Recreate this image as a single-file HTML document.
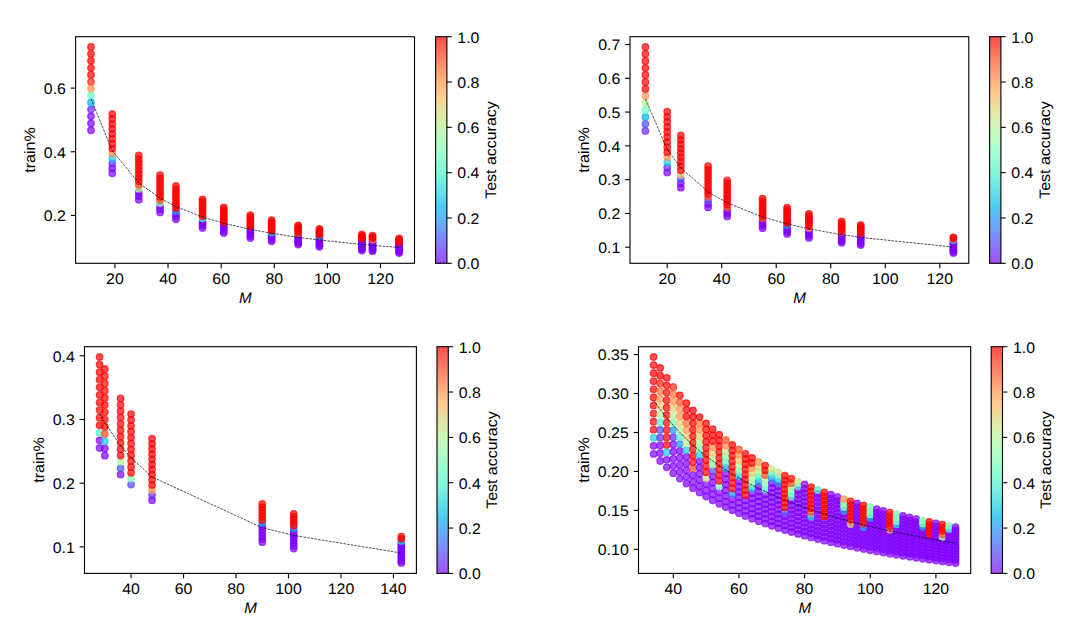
<!DOCTYPE html>
<html><head><meta charset="utf-8"><style>
html,body{margin:0;padding:0;background:#fff;width:1080px;height:642px;overflow:hidden}
svg{display:block}
text{font-family:"Liberation Sans",sans-serif;fill:#000;text-rendering:geometricPrecision}
circle{fill-opacity:0.7;stroke-opacity:0.7;stroke-width:1.2}
</style></head><body>
<svg width="1080" height="642" viewBox="0 0 1080 642">
<rect width="1080" height="642" fill="#fff"/>
<g>
<clipPath id="c1"><rect x="75.60" y="36.70" width="338.90" height="226.60"/></clipPath>
<g clip-path="url(#c1)">
<circle cx="91.00" cy="130.24" r="3.30" fill="#8000ff" stroke="#8000ff"/>
<circle cx="91.00" cy="123.30" r="3.30" fill="#8000ff" stroke="#8000ff"/>
<circle cx="91.00" cy="116.37" r="3.30" fill="#8000ff" stroke="#8000ff"/>
<circle cx="91.00" cy="109.43" r="3.30" fill="#6826fe" stroke="#6826fe"/>
<circle cx="91.00" cy="102.49" r="3.30" fill="#00b5eb" stroke="#00b5eb"/>
<circle cx="91.00" cy="95.56" r="3.30" fill="#66fcc2" stroke="#66fcc2"/>
<circle cx="91.00" cy="88.62" r="3.30" fill="#ff964f" stroke="#ff964f"/>
<circle cx="91.00" cy="81.68" r="3.30" fill="#ff2613" stroke="#ff2613"/>
<circle cx="91.00" cy="74.75" r="3.30" fill="#ff0000" stroke="#ff0000"/>
<circle cx="91.00" cy="67.81" r="3.30" fill="#ff0000" stroke="#ff0000"/>
<circle cx="91.00" cy="60.87" r="3.30" fill="#ff0000" stroke="#ff0000"/>
<circle cx="91.00" cy="53.94" r="3.30" fill="#ff0000" stroke="#ff0000"/>
<circle cx="91.00" cy="47.00" r="3.30" fill="#ff0000" stroke="#ff0000"/>
<circle cx="112.25" cy="173.26" r="3.30" fill="#8000ff" stroke="#8000ff"/>
<circle cx="112.25" cy="168.33" r="3.30" fill="#8000ff" stroke="#8000ff"/>
<circle cx="112.25" cy="163.39" r="3.30" fill="#6826fe" stroke="#6826fe"/>
<circle cx="112.25" cy="158.46" r="3.30" fill="#18cde4" stroke="#18cde4"/>
<circle cx="112.25" cy="153.53" r="3.30" fill="#ff964f" stroke="#ff964f"/>
<circle cx="112.25" cy="148.60" r="3.30" fill="#ff0000" stroke="#ff0000"/>
<circle cx="112.25" cy="143.67" r="3.30" fill="#ff0000" stroke="#ff0000"/>
<circle cx="112.25" cy="138.74" r="3.30" fill="#ff0000" stroke="#ff0000"/>
<circle cx="112.25" cy="133.81" r="3.30" fill="#ff0000" stroke="#ff0000"/>
<circle cx="112.25" cy="128.87" r="3.30" fill="#ff0000" stroke="#ff0000"/>
<circle cx="112.25" cy="123.94" r="3.30" fill="#ff0000" stroke="#ff0000"/>
<circle cx="112.25" cy="119.01" r="3.30" fill="#ff0000" stroke="#ff0000"/>
<circle cx="112.25" cy="114.08" r="3.30" fill="#ff0000" stroke="#ff0000"/>
<circle cx="138.81" cy="199.78" r="3.30" fill="#8000ff" stroke="#8000ff"/>
<circle cx="138.81" cy="196.08" r="3.30" fill="#8000ff" stroke="#8000ff"/>
<circle cx="138.81" cy="192.39" r="3.30" fill="#8000ff" stroke="#8000ff"/>
<circle cx="138.81" cy="188.69" r="3.30" fill="#b2f396" stroke="#b2f396"/>
<circle cx="138.81" cy="185.00" r="3.30" fill="#ff4d27" stroke="#ff4d27"/>
<circle cx="138.81" cy="181.31" r="3.30" fill="#ff0000" stroke="#ff0000"/>
<circle cx="138.81" cy="177.61" r="3.30" fill="#ff0000" stroke="#ff0000"/>
<circle cx="138.81" cy="173.92" r="3.30" fill="#ff0000" stroke="#ff0000"/>
<circle cx="138.81" cy="170.22" r="3.30" fill="#ff0000" stroke="#ff0000"/>
<circle cx="138.81" cy="166.53" r="3.30" fill="#ff0000" stroke="#ff0000"/>
<circle cx="138.81" cy="162.83" r="3.30" fill="#ff0000" stroke="#ff0000"/>
<circle cx="138.81" cy="159.14" r="3.30" fill="#ff0000" stroke="#ff0000"/>
<circle cx="138.81" cy="155.44" r="3.30" fill="#ff0000" stroke="#ff0000"/>
<circle cx="160.06" cy="212.42" r="3.30" fill="#8000ff" stroke="#8000ff"/>
<circle cx="160.06" cy="209.32" r="3.30" fill="#8000ff" stroke="#8000ff"/>
<circle cx="160.06" cy="206.21" r="3.30" fill="#8000ff" stroke="#8000ff"/>
<circle cx="160.06" cy="203.11" r="3.30" fill="#80ffb4" stroke="#80ffb4"/>
<circle cx="160.06" cy="200.00" r="3.30" fill="#ff4d27" stroke="#ff4d27"/>
<circle cx="160.06" cy="196.89" r="3.30" fill="#ff0000" stroke="#ff0000"/>
<circle cx="160.06" cy="193.79" r="3.30" fill="#ff0000" stroke="#ff0000"/>
<circle cx="160.06" cy="190.68" r="3.30" fill="#ff0000" stroke="#ff0000"/>
<circle cx="160.06" cy="187.58" r="3.30" fill="#ff0000" stroke="#ff0000"/>
<circle cx="160.06" cy="184.47" r="3.30" fill="#ff0000" stroke="#ff0000"/>
<circle cx="160.06" cy="181.37" r="3.30" fill="#ff0000" stroke="#ff0000"/>
<circle cx="160.06" cy="178.26" r="3.30" fill="#ff0000" stroke="#ff0000"/>
<circle cx="160.06" cy="175.16" r="3.30" fill="#ff0000" stroke="#ff0000"/>
<circle cx="176.00" cy="219.33" r="3.30" fill="#8000ff" stroke="#8000ff"/>
<circle cx="176.00" cy="216.55" r="3.30" fill="#8000ff" stroke="#8000ff"/>
<circle cx="176.00" cy="213.76" r="3.30" fill="#8000ff" stroke="#8000ff"/>
<circle cx="176.00" cy="210.98" r="3.30" fill="#1996f3" stroke="#1996f3"/>
<circle cx="176.00" cy="208.20" r="3.30" fill="#ff0000" stroke="#ff0000"/>
<circle cx="176.00" cy="205.41" r="3.30" fill="#ff0000" stroke="#ff0000"/>
<circle cx="176.00" cy="202.63" r="3.30" fill="#ff0000" stroke="#ff0000"/>
<circle cx="176.00" cy="199.85" r="3.30" fill="#ff0000" stroke="#ff0000"/>
<circle cx="176.00" cy="197.06" r="3.30" fill="#ff0000" stroke="#ff0000"/>
<circle cx="176.00" cy="194.28" r="3.30" fill="#ff0000" stroke="#ff0000"/>
<circle cx="176.00" cy="191.50" r="3.30" fill="#ff0000" stroke="#ff0000"/>
<circle cx="176.00" cy="188.71" r="3.30" fill="#ff0000" stroke="#ff0000"/>
<circle cx="176.00" cy="185.93" r="3.30" fill="#ff0000" stroke="#ff0000"/>
<circle cx="202.55" cy="227.90" r="3.30" fill="#8000ff" stroke="#8000ff"/>
<circle cx="202.55" cy="225.52" r="3.30" fill="#8000ff" stroke="#8000ff"/>
<circle cx="202.55" cy="223.14" r="3.30" fill="#8000ff" stroke="#8000ff"/>
<circle cx="202.55" cy="220.75" r="3.30" fill="#8000ff" stroke="#8000ff"/>
<circle cx="202.55" cy="218.37" r="3.30" fill="#4df3ce" stroke="#4df3ce"/>
<circle cx="202.55" cy="215.98" r="3.30" fill="#ff0000" stroke="#ff0000"/>
<circle cx="202.55" cy="213.60" r="3.30" fill="#ff0000" stroke="#ff0000"/>
<circle cx="202.55" cy="211.22" r="3.30" fill="#ff0000" stroke="#ff0000"/>
<circle cx="202.55" cy="208.83" r="3.30" fill="#ff0000" stroke="#ff0000"/>
<circle cx="202.55" cy="206.45" r="3.30" fill="#ff0000" stroke="#ff0000"/>
<circle cx="202.55" cy="204.07" r="3.30" fill="#ff0000" stroke="#ff0000"/>
<circle cx="202.55" cy="201.68" r="3.30" fill="#ff0000" stroke="#ff0000"/>
<circle cx="202.55" cy="199.30" r="3.30" fill="#ff0000" stroke="#ff0000"/>
<circle cx="223.80" cy="233.04" r="3.30" fill="#8000ff" stroke="#8000ff"/>
<circle cx="223.80" cy="230.89" r="3.30" fill="#8000ff" stroke="#8000ff"/>
<circle cx="223.80" cy="228.75" r="3.30" fill="#8000ff" stroke="#8000ff"/>
<circle cx="223.80" cy="226.60" r="3.30" fill="#8000ff" stroke="#8000ff"/>
<circle cx="223.80" cy="224.46" r="3.30" fill="#8000ff" stroke="#8000ff"/>
<circle cx="223.80" cy="222.31" r="3.30" fill="#ff0000" stroke="#ff0000"/>
<circle cx="223.80" cy="220.17" r="3.30" fill="#ff0000" stroke="#ff0000"/>
<circle cx="223.80" cy="218.02" r="3.30" fill="#ff0000" stroke="#ff0000"/>
<circle cx="223.80" cy="215.88" r="3.30" fill="#ff0000" stroke="#ff0000"/>
<circle cx="223.80" cy="213.74" r="3.30" fill="#ff0000" stroke="#ff0000"/>
<circle cx="223.80" cy="211.59" r="3.30" fill="#ff0000" stroke="#ff0000"/>
<circle cx="223.80" cy="209.45" r="3.30" fill="#ff0000" stroke="#ff0000"/>
<circle cx="223.80" cy="207.30" r="3.30" fill="#ff0000" stroke="#ff0000"/>
<circle cx="250.36" cy="238.06" r="3.30" fill="#8000ff" stroke="#8000ff"/>
<circle cx="250.36" cy="236.14" r="3.30" fill="#8000ff" stroke="#8000ff"/>
<circle cx="250.36" cy="234.23" r="3.30" fill="#8000ff" stroke="#8000ff"/>
<circle cx="250.36" cy="232.32" r="3.30" fill="#8000ff" stroke="#8000ff"/>
<circle cx="250.36" cy="230.41" r="3.30" fill="#8000ff" stroke="#8000ff"/>
<circle cx="250.36" cy="228.50" r="3.30" fill="#8000ff" stroke="#8000ff"/>
<circle cx="250.36" cy="226.59" r="3.30" fill="#ff0000" stroke="#ff0000"/>
<circle cx="250.36" cy="224.68" r="3.30" fill="#ff0000" stroke="#ff0000"/>
<circle cx="250.36" cy="222.77" r="3.30" fill="#ff0000" stroke="#ff0000"/>
<circle cx="250.36" cy="220.86" r="3.30" fill="#ff0000" stroke="#ff0000"/>
<circle cx="250.36" cy="218.95" r="3.30" fill="#ff0000" stroke="#ff0000"/>
<circle cx="250.36" cy="217.04" r="3.30" fill="#ff0000" stroke="#ff0000"/>
<circle cx="250.36" cy="215.13" r="3.30" fill="#ff0000" stroke="#ff0000"/>
<circle cx="271.61" cy="241.28" r="3.30" fill="#8000ff" stroke="#8000ff"/>
<circle cx="271.61" cy="239.52" r="3.30" fill="#8000ff" stroke="#8000ff"/>
<circle cx="271.61" cy="237.76" r="3.30" fill="#8000ff" stroke="#8000ff"/>
<circle cx="271.61" cy="236.00" r="3.30" fill="#8000ff" stroke="#8000ff"/>
<circle cx="271.61" cy="234.24" r="3.30" fill="#8000ff" stroke="#8000ff"/>
<circle cx="271.61" cy="232.48" r="3.30" fill="#18cde4" stroke="#18cde4"/>
<circle cx="271.61" cy="230.72" r="3.30" fill="#ff0000" stroke="#ff0000"/>
<circle cx="271.61" cy="228.96" r="3.30" fill="#ff0000" stroke="#ff0000"/>
<circle cx="271.61" cy="227.20" r="3.30" fill="#ff0000" stroke="#ff0000"/>
<circle cx="271.61" cy="225.44" r="3.30" fill="#ff0000" stroke="#ff0000"/>
<circle cx="271.61" cy="223.68" r="3.30" fill="#ff0000" stroke="#ff0000"/>
<circle cx="271.61" cy="221.92" r="3.30" fill="#ff0000" stroke="#ff0000"/>
<circle cx="271.61" cy="220.16" r="3.30" fill="#ff0000" stroke="#ff0000"/>
<circle cx="298.17" cy="244.61" r="3.30" fill="#8000ff" stroke="#8000ff"/>
<circle cx="298.17" cy="243.01" r="3.30" fill="#8000ff" stroke="#8000ff"/>
<circle cx="298.17" cy="241.40" r="3.30" fill="#8000ff" stroke="#8000ff"/>
<circle cx="298.17" cy="239.80" r="3.30" fill="#8000ff" stroke="#8000ff"/>
<circle cx="298.17" cy="238.19" r="3.30" fill="#8000ff" stroke="#8000ff"/>
<circle cx="298.17" cy="236.59" r="3.30" fill="#8000ff" stroke="#8000ff"/>
<circle cx="298.17" cy="234.98" r="3.30" fill="#8000ff" stroke="#8000ff"/>
<circle cx="298.17" cy="233.38" r="3.30" fill="#ff4d27" stroke="#ff4d27"/>
<circle cx="298.17" cy="231.77" r="3.30" fill="#ff0000" stroke="#ff0000"/>
<circle cx="298.17" cy="230.17" r="3.30" fill="#ff0000" stroke="#ff0000"/>
<circle cx="298.17" cy="228.56" r="3.30" fill="#ff0000" stroke="#ff0000"/>
<circle cx="298.17" cy="226.96" r="3.30" fill="#ff0000" stroke="#ff0000"/>
<circle cx="298.17" cy="225.35" r="3.30" fill="#ff0000" stroke="#ff0000"/>
<circle cx="319.42" cy="246.84" r="3.30" fill="#8000ff" stroke="#8000ff"/>
<circle cx="319.42" cy="245.34" r="3.30" fill="#8000ff" stroke="#8000ff"/>
<circle cx="319.42" cy="243.84" r="3.30" fill="#8000ff" stroke="#8000ff"/>
<circle cx="319.42" cy="242.34" r="3.30" fill="#8000ff" stroke="#8000ff"/>
<circle cx="319.42" cy="240.84" r="3.30" fill="#8000ff" stroke="#8000ff"/>
<circle cx="319.42" cy="239.34" r="3.30" fill="#8000ff" stroke="#8000ff"/>
<circle cx="319.42" cy="237.84" r="3.30" fill="#8000ff" stroke="#8000ff"/>
<circle cx="319.42" cy="236.34" r="3.30" fill="#1996f3" stroke="#1996f3"/>
<circle cx="319.42" cy="234.84" r="3.30" fill="#ff0000" stroke="#ff0000"/>
<circle cx="319.42" cy="233.34" r="3.30" fill="#ff0000" stroke="#ff0000"/>
<circle cx="319.42" cy="231.84" r="3.30" fill="#ff0000" stroke="#ff0000"/>
<circle cx="319.42" cy="230.34" r="3.30" fill="#ff0000" stroke="#ff0000"/>
<circle cx="319.42" cy="228.83" r="3.30" fill="#ff0000" stroke="#ff0000"/>
<circle cx="361.91" cy="250.48" r="3.30" fill="#8000ff" stroke="#8000ff"/>
<circle cx="361.91" cy="249.15" r="3.30" fill="#8000ff" stroke="#8000ff"/>
<circle cx="361.91" cy="247.82" r="3.30" fill="#8000ff" stroke="#8000ff"/>
<circle cx="361.91" cy="246.49" r="3.30" fill="#8000ff" stroke="#8000ff"/>
<circle cx="361.91" cy="245.15" r="3.30" fill="#8000ff" stroke="#8000ff"/>
<circle cx="361.91" cy="243.82" r="3.30" fill="#8000ff" stroke="#8000ff"/>
<circle cx="361.91" cy="242.49" r="3.30" fill="#8000ff" stroke="#8000ff"/>
<circle cx="361.91" cy="241.16" r="3.30" fill="#8000ff" stroke="#8000ff"/>
<circle cx="361.91" cy="239.83" r="3.30" fill="#8000ff" stroke="#8000ff"/>
<circle cx="361.91" cy="238.50" r="3.30" fill="#ff0000" stroke="#ff0000"/>
<circle cx="361.91" cy="237.17" r="3.30" fill="#ff0000" stroke="#ff0000"/>
<circle cx="361.91" cy="235.84" r="3.30" fill="#ff0000" stroke="#ff0000"/>
<circle cx="361.91" cy="234.50" r="3.30" fill="#ff0000" stroke="#ff0000"/>
<circle cx="372.54" cy="251.25" r="3.30" fill="#8000ff" stroke="#8000ff"/>
<circle cx="372.54" cy="249.96" r="3.30" fill="#8000ff" stroke="#8000ff"/>
<circle cx="372.54" cy="248.66" r="3.30" fill="#8000ff" stroke="#8000ff"/>
<circle cx="372.54" cy="247.37" r="3.30" fill="#8000ff" stroke="#8000ff"/>
<circle cx="372.54" cy="246.07" r="3.30" fill="#8000ff" stroke="#8000ff"/>
<circle cx="372.54" cy="244.78" r="3.30" fill="#8000ff" stroke="#8000ff"/>
<circle cx="372.54" cy="243.48" r="3.30" fill="#8000ff" stroke="#8000ff"/>
<circle cx="372.54" cy="242.19" r="3.30" fill="#8000ff" stroke="#8000ff"/>
<circle cx="372.54" cy="240.89" r="3.30" fill="#8000ff" stroke="#8000ff"/>
<circle cx="372.54" cy="239.60" r="3.30" fill="#ff964f" stroke="#ff964f"/>
<circle cx="372.54" cy="238.30" r="3.30" fill="#ff0000" stroke="#ff0000"/>
<circle cx="372.54" cy="237.01" r="3.30" fill="#ff0000" stroke="#ff0000"/>
<circle cx="372.54" cy="235.71" r="3.30" fill="#ff0000" stroke="#ff0000"/>
<circle cx="399.10" cy="253.00" r="3.30" fill="#8000ff" stroke="#8000ff"/>
<circle cx="399.10" cy="251.79" r="3.30" fill="#8000ff" stroke="#8000ff"/>
<circle cx="399.10" cy="250.57" r="3.30" fill="#8000ff" stroke="#8000ff"/>
<circle cx="399.10" cy="249.36" r="3.30" fill="#8000ff" stroke="#8000ff"/>
<circle cx="399.10" cy="248.14" r="3.30" fill="#8000ff" stroke="#8000ff"/>
<circle cx="399.10" cy="246.93" r="3.30" fill="#8000ff" stroke="#8000ff"/>
<circle cx="399.10" cy="245.72" r="3.30" fill="#8000ff" stroke="#8000ff"/>
<circle cx="399.10" cy="244.50" r="3.30" fill="#8000ff" stroke="#8000ff"/>
<circle cx="399.10" cy="243.29" r="3.30" fill="#8000ff" stroke="#8000ff"/>
<circle cx="399.10" cy="242.08" r="3.30" fill="#ff0000" stroke="#ff0000"/>
<circle cx="399.10" cy="240.86" r="3.30" fill="#ff0000" stroke="#ff0000"/>
<circle cx="399.10" cy="239.65" r="3.30" fill="#ff0000" stroke="#ff0000"/>
<circle cx="399.10" cy="238.43" r="3.30" fill="#ff0000" stroke="#ff0000"/>
<polyline points="91.00,98.68 112.25,150.82 138.81,182.97 160.06,198.29 176.00,206.67 202.55,217.06 223.80,223.28 250.36,229.36 271.61,233.27 298.17,237.31 319.42,240.02 361.91,244.42 372.54,245.36 399.10,247.48" fill="none" stroke="#000" stroke-width="0.69" stroke-dasharray="2.57 1.11"/>
</g>
<rect x="75.60" y="36.70" width="338.90" height="226.60" fill="none" stroke="#000" stroke-width="1.11"/>
<line x1="114.91" y1="263.30" x2="114.91" y2="268.16" stroke="#000" stroke-width="1.11"/>
<text x="114.91" y="283.80" text-anchor="middle" font-size="15.30" textLength="17.67" lengthAdjust="spacingAndGlyphs">20</text>
<line x1="168.03" y1="263.30" x2="168.03" y2="268.16" stroke="#000" stroke-width="1.11"/>
<text x="168.03" y="283.80" text-anchor="middle" font-size="15.30" textLength="17.67" lengthAdjust="spacingAndGlyphs">40</text>
<line x1="221.15" y1="263.30" x2="221.15" y2="268.16" stroke="#000" stroke-width="1.11"/>
<text x="221.15" y="283.80" text-anchor="middle" font-size="15.30" textLength="17.67" lengthAdjust="spacingAndGlyphs">60</text>
<line x1="274.27" y1="263.30" x2="274.27" y2="268.16" stroke="#000" stroke-width="1.11"/>
<text x="274.27" y="283.80" text-anchor="middle" font-size="15.30" textLength="17.67" lengthAdjust="spacingAndGlyphs">80</text>
<line x1="327.38" y1="263.30" x2="327.38" y2="268.16" stroke="#000" stroke-width="1.11"/>
<text x="327.38" y="283.80" text-anchor="middle" font-size="15.30" textLength="26.50" lengthAdjust="spacingAndGlyphs">100</text>
<line x1="380.50" y1="263.30" x2="380.50" y2="268.16" stroke="#000" stroke-width="1.11"/>
<text x="380.50" y="283.80" text-anchor="middle" font-size="15.30" textLength="26.50" lengthAdjust="spacingAndGlyphs">120</text>
<line x1="70.74" y1="215.39" x2="75.60" y2="215.39" stroke="#000" stroke-width="1.11"/>
<text x="65.88" y="221.19" text-anchor="end" font-size="15.30" textLength="22.08" lengthAdjust="spacingAndGlyphs">0.2</text>
<line x1="70.74" y1="151.75" x2="75.60" y2="151.75" stroke="#000" stroke-width="1.11"/>
<text x="65.88" y="157.55" text-anchor="end" font-size="15.30" textLength="22.08" lengthAdjust="spacingAndGlyphs">0.4</text>
<line x1="70.74" y1="88.11" x2="75.60" y2="88.11" stroke="#000" stroke-width="1.11"/>
<text x="65.88" y="93.91" text-anchor="end" font-size="15.30" textLength="22.08" lengthAdjust="spacingAndGlyphs">0.6</text>
<text x="245.25" y="302.80" text-anchor="middle" font-size="15.20" font-style="italic">M</text>
<text x="34.60" y="150.00" text-anchor="middle" font-size="15.20" transform="rotate(-90 34.60 150.00)" textLength="45.50" lengthAdjust="spacingAndGlyphs">train%</text>
<linearGradient id="g1" x1="0" y1="0" x2="0" y2="1"><stop offset="0.000" stop-color="#ff0000"/><stop offset="0.031" stop-color="#ff160b"/><stop offset="0.062" stop-color="#ff2f18"/><stop offset="0.094" stop-color="#ff4724"/><stop offset="0.125" stop-color="#ff5f30"/><stop offset="0.156" stop-color="#ff763d"/><stop offset="0.188" stop-color="#ff8c49"/><stop offset="0.219" stop-color="#ffa055"/><stop offset="0.250" stop-color="#ffb360"/><stop offset="0.281" stop-color="#f0c46c"/><stop offset="0.312" stop-color="#e0d377"/><stop offset="0.344" stop-color="#d0e082"/><stop offset="0.375" stop-color="#c0eb8d"/><stop offset="0.406" stop-color="#b0f397"/><stop offset="0.438" stop-color="#a0faa1"/><stop offset="0.469" stop-color="#90feab"/><stop offset="0.500" stop-color="#80ffb4"/><stop offset="0.531" stop-color="#70febc"/><stop offset="0.562" stop-color="#60fac5"/><stop offset="0.594" stop-color="#50f4cc"/><stop offset="0.625" stop-color="#40ecd4"/><stop offset="0.656" stop-color="#30e1da"/><stop offset="0.688" stop-color="#20d5e1"/><stop offset="0.719" stop-color="#10c6e6"/><stop offset="0.750" stop-color="#00b5eb"/><stop offset="0.781" stop-color="#10a2f0"/><stop offset="0.812" stop-color="#208ef4"/><stop offset="0.844" stop-color="#3079f7"/><stop offset="0.875" stop-color="#4062fa"/><stop offset="0.906" stop-color="#504afc"/><stop offset="0.938" stop-color="#6032fe"/><stop offset="0.969" stop-color="#7019ff"/><stop offset="1.000" stop-color="#8000ff"/></linearGradient>
<rect x="435.60" y="36.70" width="11.30" height="226.60" fill="url(#g1)" fill-opacity="0.70"/>
<rect x="435.60" y="36.70" width="11.30" height="226.60" fill="none" stroke="#000" stroke-width="1.11"/>
<line x1="446.90" y1="263.30" x2="451.76" y2="263.30" stroke="#000" stroke-width="1.11"/>
<text x="457.30" y="269.10" text-anchor="start" font-size="15.30" textLength="22.08" lengthAdjust="spacingAndGlyphs">0.0</text>
<line x1="446.90" y1="217.98" x2="451.76" y2="217.98" stroke="#000" stroke-width="1.11"/>
<text x="457.30" y="223.78" text-anchor="start" font-size="15.30" textLength="22.08" lengthAdjust="spacingAndGlyphs">0.2</text>
<line x1="446.90" y1="172.66" x2="451.76" y2="172.66" stroke="#000" stroke-width="1.11"/>
<text x="457.30" y="178.46" text-anchor="start" font-size="15.30" textLength="22.08" lengthAdjust="spacingAndGlyphs">0.4</text>
<line x1="446.90" y1="127.34" x2="451.76" y2="127.34" stroke="#000" stroke-width="1.11"/>
<text x="457.30" y="133.14" text-anchor="start" font-size="15.30" textLength="22.08" lengthAdjust="spacingAndGlyphs">0.6</text>
<line x1="446.90" y1="82.02" x2="451.76" y2="82.02" stroke="#000" stroke-width="1.11"/>
<text x="457.30" y="87.82" text-anchor="start" font-size="15.30" textLength="22.08" lengthAdjust="spacingAndGlyphs">0.8</text>
<line x1="446.90" y1="36.70" x2="451.76" y2="36.70" stroke="#000" stroke-width="1.11"/>
<text x="457.30" y="42.50" text-anchor="start" font-size="15.30" textLength="22.08" lengthAdjust="spacingAndGlyphs">1.0</text>
<text x="495.90" y="150.00" text-anchor="middle" font-size="15.20" transform="rotate(-90 495.90 150.00)" textLength="97.50" lengthAdjust="spacingAndGlyphs">Test accuracy</text>
</g>
<g>
<clipPath id="c2"><rect x="630.00" y="36.70" width="338.80" height="226.60"/></clipPath>
<g clip-path="url(#c2)">
<circle cx="645.40" cy="130.94" r="3.30" fill="#6826fe" stroke="#6826fe"/>
<circle cx="645.40" cy="123.95" r="3.30" fill="#4e4dfc" stroke="#4e4dfc"/>
<circle cx="645.40" cy="116.95" r="3.30" fill="#00b5eb" stroke="#00b5eb"/>
<circle cx="645.40" cy="109.96" r="3.30" fill="#66fcc2" stroke="#66fcc2"/>
<circle cx="645.40" cy="102.96" r="3.30" fill="#b2f396" stroke="#b2f396"/>
<circle cx="645.40" cy="95.97" r="3.30" fill="#ff964f" stroke="#ff964f"/>
<circle cx="645.40" cy="88.97" r="3.30" fill="#ff0000" stroke="#ff0000"/>
<circle cx="645.40" cy="81.98" r="3.30" fill="#ff0000" stroke="#ff0000"/>
<circle cx="645.40" cy="74.98" r="3.30" fill="#ff0000" stroke="#ff0000"/>
<circle cx="645.40" cy="67.99" r="3.30" fill="#ff0000" stroke="#ff0000"/>
<circle cx="645.40" cy="60.99" r="3.30" fill="#ff0000" stroke="#ff0000"/>
<circle cx="645.40" cy="54.00" r="3.30" fill="#ff0000" stroke="#ff0000"/>
<circle cx="645.40" cy="47.00" r="3.30" fill="#ff0000" stroke="#ff0000"/>
<circle cx="667.21" cy="172.45" r="3.30" fill="#8000ff" stroke="#8000ff"/>
<circle cx="667.21" cy="167.39" r="3.30" fill="#6826fe" stroke="#6826fe"/>
<circle cx="667.21" cy="162.33" r="3.30" fill="#18cde4" stroke="#18cde4"/>
<circle cx="667.21" cy="157.27" r="3.30" fill="#ff964f" stroke="#ff964f"/>
<circle cx="667.21" cy="152.21" r="3.30" fill="#ff0000" stroke="#ff0000"/>
<circle cx="667.21" cy="147.15" r="3.30" fill="#ff0000" stroke="#ff0000"/>
<circle cx="667.21" cy="142.09" r="3.30" fill="#ff0000" stroke="#ff0000"/>
<circle cx="667.21" cy="137.03" r="3.30" fill="#ff0000" stroke="#ff0000"/>
<circle cx="667.21" cy="131.97" r="3.30" fill="#ff0000" stroke="#ff0000"/>
<circle cx="667.21" cy="126.91" r="3.30" fill="#ff0000" stroke="#ff0000"/>
<circle cx="667.21" cy="121.85" r="3.30" fill="#ff0000" stroke="#ff0000"/>
<circle cx="667.21" cy="116.79" r="3.30" fill="#ff0000" stroke="#ff0000"/>
<circle cx="667.21" cy="111.73" r="3.30" fill="#ff0000" stroke="#ff0000"/>
<circle cx="680.83" cy="187.69" r="3.30" fill="#8000ff" stroke="#8000ff"/>
<circle cx="680.83" cy="183.34" r="3.30" fill="#8000ff" stroke="#8000ff"/>
<circle cx="680.83" cy="178.99" r="3.30" fill="#4e4dfc" stroke="#4e4dfc"/>
<circle cx="680.83" cy="174.64" r="3.30" fill="#e6cd73" stroke="#e6cd73"/>
<circle cx="680.83" cy="170.30" r="3.30" fill="#ff0000" stroke="#ff0000"/>
<circle cx="680.83" cy="165.95" r="3.30" fill="#ff0000" stroke="#ff0000"/>
<circle cx="680.83" cy="161.60" r="3.30" fill="#ff0000" stroke="#ff0000"/>
<circle cx="680.83" cy="157.25" r="3.30" fill="#ff0000" stroke="#ff0000"/>
<circle cx="680.83" cy="152.90" r="3.30" fill="#ff0000" stroke="#ff0000"/>
<circle cx="680.83" cy="148.55" r="3.30" fill="#ff0000" stroke="#ff0000"/>
<circle cx="680.83" cy="144.20" r="3.30" fill="#ff0000" stroke="#ff0000"/>
<circle cx="680.83" cy="139.85" r="3.30" fill="#ff0000" stroke="#ff0000"/>
<circle cx="680.83" cy="135.50" r="3.30" fill="#ff0000" stroke="#ff0000"/>
<circle cx="708.09" cy="207.38" r="3.30" fill="#8000ff" stroke="#8000ff"/>
<circle cx="708.09" cy="203.95" r="3.30" fill="#8000ff" stroke="#8000ff"/>
<circle cx="708.09" cy="200.52" r="3.30" fill="#4e4dfc" stroke="#4e4dfc"/>
<circle cx="708.09" cy="197.09" r="3.30" fill="#ff4d27" stroke="#ff4d27"/>
<circle cx="708.09" cy="193.66" r="3.30" fill="#ff0000" stroke="#ff0000"/>
<circle cx="708.09" cy="190.23" r="3.30" fill="#ff0000" stroke="#ff0000"/>
<circle cx="708.09" cy="186.79" r="3.30" fill="#ff0000" stroke="#ff0000"/>
<circle cx="708.09" cy="183.36" r="3.30" fill="#ff0000" stroke="#ff0000"/>
<circle cx="708.09" cy="179.93" r="3.30" fill="#ff0000" stroke="#ff0000"/>
<circle cx="708.09" cy="176.50" r="3.30" fill="#ff0000" stroke="#ff0000"/>
<circle cx="708.09" cy="173.07" r="3.30" fill="#ff0000" stroke="#ff0000"/>
<circle cx="708.09" cy="169.64" r="3.30" fill="#ff0000" stroke="#ff0000"/>
<circle cx="708.09" cy="166.21" r="3.30" fill="#ff0000" stroke="#ff0000"/>
<circle cx="727.17" cy="216.51" r="3.30" fill="#8000ff" stroke="#8000ff"/>
<circle cx="727.17" cy="213.50" r="3.30" fill="#8000ff" stroke="#8000ff"/>
<circle cx="727.17" cy="210.49" r="3.30" fill="#8000ff" stroke="#8000ff"/>
<circle cx="727.17" cy="207.49" r="3.30" fill="#ff4d27" stroke="#ff4d27"/>
<circle cx="727.17" cy="204.48" r="3.30" fill="#ff0000" stroke="#ff0000"/>
<circle cx="727.17" cy="201.47" r="3.30" fill="#ff0000" stroke="#ff0000"/>
<circle cx="727.17" cy="198.47" r="3.30" fill="#ff0000" stroke="#ff0000"/>
<circle cx="727.17" cy="195.46" r="3.30" fill="#ff0000" stroke="#ff0000"/>
<circle cx="727.17" cy="192.46" r="3.30" fill="#ff0000" stroke="#ff0000"/>
<circle cx="727.17" cy="189.45" r="3.30" fill="#ff0000" stroke="#ff0000"/>
<circle cx="727.17" cy="186.44" r="3.30" fill="#ff0000" stroke="#ff0000"/>
<circle cx="727.17" cy="183.44" r="3.30" fill="#ff0000" stroke="#ff0000"/>
<circle cx="727.17" cy="180.43" r="3.30" fill="#ff0000" stroke="#ff0000"/>
<circle cx="762.60" cy="228.19" r="3.30" fill="#8000ff" stroke="#8000ff"/>
<circle cx="762.60" cy="225.73" r="3.30" fill="#8000ff" stroke="#8000ff"/>
<circle cx="762.60" cy="223.27" r="3.30" fill="#8000ff" stroke="#8000ff"/>
<circle cx="762.60" cy="220.81" r="3.30" fill="#8000ff" stroke="#8000ff"/>
<circle cx="762.60" cy="218.35" r="3.30" fill="#ff4d27" stroke="#ff4d27"/>
<circle cx="762.60" cy="215.89" r="3.30" fill="#ff0000" stroke="#ff0000"/>
<circle cx="762.60" cy="213.43" r="3.30" fill="#ff0000" stroke="#ff0000"/>
<circle cx="762.60" cy="210.97" r="3.30" fill="#ff0000" stroke="#ff0000"/>
<circle cx="762.60" cy="208.50" r="3.30" fill="#ff0000" stroke="#ff0000"/>
<circle cx="762.60" cy="206.04" r="3.30" fill="#ff0000" stroke="#ff0000"/>
<circle cx="762.60" cy="203.58" r="3.30" fill="#ff0000" stroke="#ff0000"/>
<circle cx="762.60" cy="201.12" r="3.30" fill="#ff0000" stroke="#ff0000"/>
<circle cx="762.60" cy="198.66" r="3.30" fill="#ff0000" stroke="#ff0000"/>
<circle cx="787.13" cy="233.90" r="3.30" fill="#8000ff" stroke="#8000ff"/>
<circle cx="787.13" cy="231.71" r="3.30" fill="#8000ff" stroke="#8000ff"/>
<circle cx="787.13" cy="229.51" r="3.30" fill="#8000ff" stroke="#8000ff"/>
<circle cx="787.13" cy="227.32" r="3.30" fill="#8000ff" stroke="#8000ff"/>
<circle cx="787.13" cy="225.12" r="3.30" fill="#1996f3" stroke="#1996f3"/>
<circle cx="787.13" cy="222.93" r="3.30" fill="#ff0000" stroke="#ff0000"/>
<circle cx="787.13" cy="220.73" r="3.30" fill="#ff0000" stroke="#ff0000"/>
<circle cx="787.13" cy="218.54" r="3.30" fill="#ff0000" stroke="#ff0000"/>
<circle cx="787.13" cy="216.34" r="3.30" fill="#ff0000" stroke="#ff0000"/>
<circle cx="787.13" cy="214.15" r="3.30" fill="#ff0000" stroke="#ff0000"/>
<circle cx="787.13" cy="211.95" r="3.30" fill="#ff0000" stroke="#ff0000"/>
<circle cx="787.13" cy="209.76" r="3.30" fill="#ff0000" stroke="#ff0000"/>
<circle cx="787.13" cy="207.56" r="3.30" fill="#ff0000" stroke="#ff0000"/>
<circle cx="808.94" cy="237.95" r="3.30" fill="#8000ff" stroke="#8000ff"/>
<circle cx="808.94" cy="235.94" r="3.30" fill="#8000ff" stroke="#8000ff"/>
<circle cx="808.94" cy="233.94" r="3.30" fill="#8000ff" stroke="#8000ff"/>
<circle cx="808.94" cy="231.93" r="3.30" fill="#8000ff" stroke="#8000ff"/>
<circle cx="808.94" cy="229.92" r="3.30" fill="#8000ff" stroke="#8000ff"/>
<circle cx="808.94" cy="227.92" r="3.30" fill="#ff964f" stroke="#ff964f"/>
<circle cx="808.94" cy="225.91" r="3.30" fill="#ff0000" stroke="#ff0000"/>
<circle cx="808.94" cy="223.90" r="3.30" fill="#ff0000" stroke="#ff0000"/>
<circle cx="808.94" cy="221.90" r="3.30" fill="#ff0000" stroke="#ff0000"/>
<circle cx="808.94" cy="219.89" r="3.30" fill="#ff0000" stroke="#ff0000"/>
<circle cx="808.94" cy="217.88" r="3.30" fill="#ff0000" stroke="#ff0000"/>
<circle cx="808.94" cy="215.88" r="3.30" fill="#ff0000" stroke="#ff0000"/>
<circle cx="808.94" cy="213.87" r="3.30" fill="#ff0000" stroke="#ff0000"/>
<circle cx="841.65" cy="242.77" r="3.30" fill="#8000ff" stroke="#8000ff"/>
<circle cx="841.65" cy="240.99" r="3.30" fill="#8000ff" stroke="#8000ff"/>
<circle cx="841.65" cy="239.20" r="3.30" fill="#8000ff" stroke="#8000ff"/>
<circle cx="841.65" cy="237.42" r="3.30" fill="#8000ff" stroke="#8000ff"/>
<circle cx="841.65" cy="235.64" r="3.30" fill="#8000ff" stroke="#8000ff"/>
<circle cx="841.65" cy="233.86" r="3.30" fill="#8000ff" stroke="#8000ff"/>
<circle cx="841.65" cy="232.08" r="3.30" fill="#ff4d27" stroke="#ff4d27"/>
<circle cx="841.65" cy="230.29" r="3.30" fill="#ff0000" stroke="#ff0000"/>
<circle cx="841.65" cy="228.51" r="3.30" fill="#ff0000" stroke="#ff0000"/>
<circle cx="841.65" cy="226.73" r="3.30" fill="#ff0000" stroke="#ff0000"/>
<circle cx="841.65" cy="224.95" r="3.30" fill="#ff0000" stroke="#ff0000"/>
<circle cx="841.65" cy="223.17" r="3.30" fill="#ff0000" stroke="#ff0000"/>
<circle cx="841.65" cy="221.39" r="3.30" fill="#ff0000" stroke="#ff0000"/>
<circle cx="860.73" cy="245.07" r="3.30" fill="#8000ff" stroke="#8000ff"/>
<circle cx="860.73" cy="243.40" r="3.30" fill="#8000ff" stroke="#8000ff"/>
<circle cx="860.73" cy="241.72" r="3.30" fill="#8000ff" stroke="#8000ff"/>
<circle cx="860.73" cy="240.05" r="3.30" fill="#8000ff" stroke="#8000ff"/>
<circle cx="860.73" cy="238.37" r="3.30" fill="#8000ff" stroke="#8000ff"/>
<circle cx="860.73" cy="236.70" r="3.30" fill="#8000ff" stroke="#8000ff"/>
<circle cx="860.73" cy="235.02" r="3.30" fill="#8000ff" stroke="#8000ff"/>
<circle cx="860.73" cy="233.35" r="3.30" fill="#ff0000" stroke="#ff0000"/>
<circle cx="860.73" cy="231.67" r="3.30" fill="#ff0000" stroke="#ff0000"/>
<circle cx="860.73" cy="230.00" r="3.30" fill="#ff0000" stroke="#ff0000"/>
<circle cx="860.73" cy="228.33" r="3.30" fill="#ff0000" stroke="#ff0000"/>
<circle cx="860.73" cy="226.65" r="3.30" fill="#ff0000" stroke="#ff0000"/>
<circle cx="860.73" cy="224.98" r="3.30" fill="#ff0000" stroke="#ff0000"/>
<circle cx="953.40" cy="253.00" r="3.30" fill="#8000ff" stroke="#8000ff"/>
<circle cx="953.40" cy="251.70" r="3.30" fill="#8000ff" stroke="#8000ff"/>
<circle cx="953.40" cy="250.39" r="3.30" fill="#8000ff" stroke="#8000ff"/>
<circle cx="953.40" cy="249.09" r="3.30" fill="#8000ff" stroke="#8000ff"/>
<circle cx="953.40" cy="247.78" r="3.30" fill="#8000ff" stroke="#8000ff"/>
<circle cx="953.40" cy="246.48" r="3.30" fill="#8000ff" stroke="#8000ff"/>
<circle cx="953.40" cy="245.17" r="3.30" fill="#8000ff" stroke="#8000ff"/>
<circle cx="953.40" cy="243.87" r="3.30" fill="#8000ff" stroke="#8000ff"/>
<circle cx="953.40" cy="242.56" r="3.30" fill="#8000ff" stroke="#8000ff"/>
<circle cx="953.40" cy="241.26" r="3.30" fill="#8000ff" stroke="#8000ff"/>
<circle cx="953.40" cy="239.95" r="3.30" fill="#4df3ce" stroke="#4df3ce"/>
<circle cx="953.40" cy="238.65" r="3.30" fill="#ff0000" stroke="#ff0000"/>
<circle cx="953.40" cy="237.34" r="3.30" fill="#ff0000" stroke="#ff0000"/>
<polyline points="645.40,99.11 667.21,149.43 680.83,167.90 708.09,191.77 727.17,202.83 762.60,217.00 787.13,223.91 808.94,228.82 841.65,234.66 860.73,237.45 953.40,247.06" fill="none" stroke="#000" stroke-width="0.69" stroke-dasharray="2.57 1.11"/>
</g>
<rect x="630.00" y="36.70" width="338.80" height="226.60" fill="none" stroke="#000" stroke-width="1.11"/>
<line x1="667.21" y1="263.30" x2="667.21" y2="268.16" stroke="#000" stroke-width="1.11"/>
<text x="667.21" y="283.80" text-anchor="middle" font-size="15.30" textLength="17.67" lengthAdjust="spacingAndGlyphs">20</text>
<line x1="721.72" y1="263.30" x2="721.72" y2="268.16" stroke="#000" stroke-width="1.11"/>
<text x="721.72" y="283.80" text-anchor="middle" font-size="15.30" textLength="17.67" lengthAdjust="spacingAndGlyphs">40</text>
<line x1="776.23" y1="263.30" x2="776.23" y2="268.16" stroke="#000" stroke-width="1.11"/>
<text x="776.23" y="283.80" text-anchor="middle" font-size="15.30" textLength="17.67" lengthAdjust="spacingAndGlyphs">60</text>
<line x1="830.75" y1="263.30" x2="830.75" y2="268.16" stroke="#000" stroke-width="1.11"/>
<text x="830.75" y="283.80" text-anchor="middle" font-size="15.30" textLength="17.67" lengthAdjust="spacingAndGlyphs">80</text>
<line x1="885.26" y1="263.30" x2="885.26" y2="268.16" stroke="#000" stroke-width="1.11"/>
<text x="885.26" y="283.80" text-anchor="middle" font-size="15.30" textLength="26.50" lengthAdjust="spacingAndGlyphs">100</text>
<line x1="939.77" y1="263.30" x2="939.77" y2="268.16" stroke="#000" stroke-width="1.11"/>
<text x="939.77" y="283.80" text-anchor="middle" font-size="15.30" textLength="26.50" lengthAdjust="spacingAndGlyphs">120</text>
<line x1="625.14" y1="247.21" x2="630.00" y2="247.21" stroke="#000" stroke-width="1.11"/>
<text x="620.28" y="253.01" text-anchor="end" font-size="15.30" textLength="22.08" lengthAdjust="spacingAndGlyphs">0.1</text>
<line x1="625.14" y1="213.43" x2="630.00" y2="213.43" stroke="#000" stroke-width="1.11"/>
<text x="620.28" y="219.23" text-anchor="end" font-size="15.30" textLength="22.08" lengthAdjust="spacingAndGlyphs">0.2</text>
<line x1="625.14" y1="179.65" x2="630.00" y2="179.65" stroke="#000" stroke-width="1.11"/>
<text x="620.28" y="185.45" text-anchor="end" font-size="15.30" textLength="22.08" lengthAdjust="spacingAndGlyphs">0.3</text>
<line x1="625.14" y1="145.87" x2="630.00" y2="145.87" stroke="#000" stroke-width="1.11"/>
<text x="620.28" y="151.67" text-anchor="end" font-size="15.30" textLength="22.08" lengthAdjust="spacingAndGlyphs">0.4</text>
<line x1="625.14" y1="112.08" x2="630.00" y2="112.08" stroke="#000" stroke-width="1.11"/>
<text x="620.28" y="117.88" text-anchor="end" font-size="15.30" textLength="22.08" lengthAdjust="spacingAndGlyphs">0.5</text>
<line x1="625.14" y1="78.30" x2="630.00" y2="78.30" stroke="#000" stroke-width="1.11"/>
<text x="620.28" y="84.10" text-anchor="end" font-size="15.30" textLength="22.08" lengthAdjust="spacingAndGlyphs">0.6</text>
<line x1="625.14" y1="44.52" x2="630.00" y2="44.52" stroke="#000" stroke-width="1.11"/>
<text x="620.28" y="50.32" text-anchor="end" font-size="15.30" textLength="22.08" lengthAdjust="spacingAndGlyphs">0.7</text>
<text x="799.60" y="302.80" text-anchor="middle" font-size="15.20" font-style="italic">M</text>
<text x="589.00" y="150.00" text-anchor="middle" font-size="15.20" transform="rotate(-90 589.00 150.00)" textLength="45.50" lengthAdjust="spacingAndGlyphs">train%</text>
<linearGradient id="g2" x1="0" y1="0" x2="0" y2="1"><stop offset="0.000" stop-color="#ff0000"/><stop offset="0.031" stop-color="#ff160b"/><stop offset="0.062" stop-color="#ff2f18"/><stop offset="0.094" stop-color="#ff4724"/><stop offset="0.125" stop-color="#ff5f30"/><stop offset="0.156" stop-color="#ff763d"/><stop offset="0.188" stop-color="#ff8c49"/><stop offset="0.219" stop-color="#ffa055"/><stop offset="0.250" stop-color="#ffb360"/><stop offset="0.281" stop-color="#f0c46c"/><stop offset="0.312" stop-color="#e0d377"/><stop offset="0.344" stop-color="#d0e082"/><stop offset="0.375" stop-color="#c0eb8d"/><stop offset="0.406" stop-color="#b0f397"/><stop offset="0.438" stop-color="#a0faa1"/><stop offset="0.469" stop-color="#90feab"/><stop offset="0.500" stop-color="#80ffb4"/><stop offset="0.531" stop-color="#70febc"/><stop offset="0.562" stop-color="#60fac5"/><stop offset="0.594" stop-color="#50f4cc"/><stop offset="0.625" stop-color="#40ecd4"/><stop offset="0.656" stop-color="#30e1da"/><stop offset="0.688" stop-color="#20d5e1"/><stop offset="0.719" stop-color="#10c6e6"/><stop offset="0.750" stop-color="#00b5eb"/><stop offset="0.781" stop-color="#10a2f0"/><stop offset="0.812" stop-color="#208ef4"/><stop offset="0.844" stop-color="#3079f7"/><stop offset="0.875" stop-color="#4062fa"/><stop offset="0.906" stop-color="#504afc"/><stop offset="0.938" stop-color="#6032fe"/><stop offset="0.969" stop-color="#7019ff"/><stop offset="1.000" stop-color="#8000ff"/></linearGradient>
<rect x="989.60" y="36.70" width="11.30" height="226.60" fill="url(#g2)" fill-opacity="0.70"/>
<rect x="989.60" y="36.70" width="11.30" height="226.60" fill="none" stroke="#000" stroke-width="1.11"/>
<line x1="1000.90" y1="263.30" x2="1005.76" y2="263.30" stroke="#000" stroke-width="1.11"/>
<text x="1011.30" y="269.10" text-anchor="start" font-size="15.30" textLength="22.08" lengthAdjust="spacingAndGlyphs">0.0</text>
<line x1="1000.90" y1="217.98" x2="1005.76" y2="217.98" stroke="#000" stroke-width="1.11"/>
<text x="1011.30" y="223.78" text-anchor="start" font-size="15.30" textLength="22.08" lengthAdjust="spacingAndGlyphs">0.2</text>
<line x1="1000.90" y1="172.66" x2="1005.76" y2="172.66" stroke="#000" stroke-width="1.11"/>
<text x="1011.30" y="178.46" text-anchor="start" font-size="15.30" textLength="22.08" lengthAdjust="spacingAndGlyphs">0.4</text>
<line x1="1000.90" y1="127.34" x2="1005.76" y2="127.34" stroke="#000" stroke-width="1.11"/>
<text x="1011.30" y="133.14" text-anchor="start" font-size="15.30" textLength="22.08" lengthAdjust="spacingAndGlyphs">0.6</text>
<line x1="1000.90" y1="82.02" x2="1005.76" y2="82.02" stroke="#000" stroke-width="1.11"/>
<text x="1011.30" y="87.82" text-anchor="start" font-size="15.30" textLength="22.08" lengthAdjust="spacingAndGlyphs">0.8</text>
<line x1="1000.90" y1="36.70" x2="1005.76" y2="36.70" stroke="#000" stroke-width="1.11"/>
<text x="1011.30" y="42.50" text-anchor="start" font-size="15.30" textLength="22.08" lengthAdjust="spacingAndGlyphs">1.0</text>
<text x="1049.90" y="150.00" text-anchor="middle" font-size="15.20" transform="rotate(-90 1049.90 150.00)" textLength="97.50" lengthAdjust="spacingAndGlyphs">Test accuracy</text>
</g>
<g>
<clipPath id="c3"><rect x="84.50" y="346.70" width="331.90" height="226.70"/></clipPath>
<g clip-path="url(#c3)">
<circle cx="99.59" cy="447.94" r="3.30" fill="#8000ff" stroke="#8000ff"/>
<circle cx="99.59" cy="440.37" r="3.30" fill="#8000ff" stroke="#8000ff"/>
<circle cx="99.59" cy="432.79" r="3.30" fill="#4df3ce" stroke="#4df3ce"/>
<circle cx="99.59" cy="425.21" r="3.30" fill="#ff0000" stroke="#ff0000"/>
<circle cx="99.59" cy="417.63" r="3.30" fill="#ff0000" stroke="#ff0000"/>
<circle cx="99.59" cy="410.05" r="3.30" fill="#ff0000" stroke="#ff0000"/>
<circle cx="99.59" cy="402.47" r="3.30" fill="#ff0000" stroke="#ff0000"/>
<circle cx="99.59" cy="394.90" r="3.30" fill="#ff0000" stroke="#ff0000"/>
<circle cx="99.59" cy="387.32" r="3.30" fill="#ff0000" stroke="#ff0000"/>
<circle cx="99.59" cy="379.74" r="3.30" fill="#ff0000" stroke="#ff0000"/>
<circle cx="99.59" cy="372.16" r="3.30" fill="#ff0000" stroke="#ff0000"/>
<circle cx="99.59" cy="364.58" r="3.30" fill="#ff0000" stroke="#ff0000"/>
<circle cx="99.59" cy="357.00" r="3.30" fill="#ff0000" stroke="#ff0000"/>
<circle cx="104.83" cy="455.64" r="3.30" fill="#8000ff" stroke="#8000ff"/>
<circle cx="104.83" cy="448.42" r="3.30" fill="#8000ff" stroke="#8000ff"/>
<circle cx="104.83" cy="441.20" r="3.30" fill="#18cde4" stroke="#18cde4"/>
<circle cx="104.83" cy="433.98" r="3.30" fill="#ff4d27" stroke="#ff4d27"/>
<circle cx="104.83" cy="426.76" r="3.30" fill="#ff0000" stroke="#ff0000"/>
<circle cx="104.83" cy="419.54" r="3.30" fill="#ff0000" stroke="#ff0000"/>
<circle cx="104.83" cy="412.32" r="3.30" fill="#ff0000" stroke="#ff0000"/>
<circle cx="104.83" cy="405.10" r="3.30" fill="#ff0000" stroke="#ff0000"/>
<circle cx="104.83" cy="397.88" r="3.30" fill="#ff0000" stroke="#ff0000"/>
<circle cx="104.83" cy="390.66" r="3.30" fill="#ff0000" stroke="#ff0000"/>
<circle cx="104.83" cy="383.44" r="3.30" fill="#ff0000" stroke="#ff0000"/>
<circle cx="104.83" cy="376.23" r="3.30" fill="#ff0000" stroke="#ff0000"/>
<circle cx="104.83" cy="369.01" r="3.30" fill="#ff0000" stroke="#ff0000"/>
<circle cx="120.58" cy="474.53" r="3.30" fill="#8000ff" stroke="#8000ff"/>
<circle cx="120.58" cy="468.19" r="3.30" fill="#4e4dfc" stroke="#4e4dfc"/>
<circle cx="120.58" cy="461.86" r="3.30" fill="#b2f396" stroke="#b2f396"/>
<circle cx="120.58" cy="455.52" r="3.30" fill="#ff0000" stroke="#ff0000"/>
<circle cx="120.58" cy="449.18" r="3.30" fill="#ff0000" stroke="#ff0000"/>
<circle cx="120.58" cy="442.84" r="3.30" fill="#ff0000" stroke="#ff0000"/>
<circle cx="120.58" cy="436.50" r="3.30" fill="#ff0000" stroke="#ff0000"/>
<circle cx="120.58" cy="430.16" r="3.30" fill="#ff0000" stroke="#ff0000"/>
<circle cx="120.58" cy="423.82" r="3.30" fill="#ff0000" stroke="#ff0000"/>
<circle cx="120.58" cy="417.48" r="3.30" fill="#ff0000" stroke="#ff0000"/>
<circle cx="120.58" cy="411.14" r="3.30" fill="#ff0000" stroke="#ff0000"/>
<circle cx="120.58" cy="404.81" r="3.30" fill="#ff0000" stroke="#ff0000"/>
<circle cx="120.58" cy="398.47" r="3.30" fill="#ff0000" stroke="#ff0000"/>
<circle cx="131.07" cy="484.53" r="3.30" fill="#4e4dfc" stroke="#4e4dfc"/>
<circle cx="131.07" cy="478.66" r="3.30" fill="#80ffb4" stroke="#80ffb4"/>
<circle cx="131.07" cy="472.79" r="3.30" fill="#ff0000" stroke="#ff0000"/>
<circle cx="131.07" cy="466.91" r="3.30" fill="#ff0000" stroke="#ff0000"/>
<circle cx="131.07" cy="461.04" r="3.30" fill="#ff0000" stroke="#ff0000"/>
<circle cx="131.07" cy="455.17" r="3.30" fill="#ff0000" stroke="#ff0000"/>
<circle cx="131.07" cy="449.30" r="3.30" fill="#ff0000" stroke="#ff0000"/>
<circle cx="131.07" cy="443.42" r="3.30" fill="#ff0000" stroke="#ff0000"/>
<circle cx="131.07" cy="437.55" r="3.30" fill="#ff0000" stroke="#ff0000"/>
<circle cx="131.07" cy="431.68" r="3.30" fill="#ff0000" stroke="#ff0000"/>
<circle cx="131.07" cy="425.80" r="3.30" fill="#ff0000" stroke="#ff0000"/>
<circle cx="131.07" cy="419.93" r="3.30" fill="#ff0000" stroke="#ff0000"/>
<circle cx="131.07" cy="414.06" r="3.30" fill="#ff0000" stroke="#ff0000"/>
<circle cx="152.06" cy="500.34" r="3.30" fill="#8000ff" stroke="#8000ff"/>
<circle cx="152.06" cy="495.20" r="3.30" fill="#6826fe" stroke="#6826fe"/>
<circle cx="152.06" cy="490.07" r="3.30" fill="#ff964f" stroke="#ff964f"/>
<circle cx="152.06" cy="484.93" r="3.30" fill="#ff0000" stroke="#ff0000"/>
<circle cx="152.06" cy="479.80" r="3.30" fill="#ff0000" stroke="#ff0000"/>
<circle cx="152.06" cy="474.66" r="3.30" fill="#ff0000" stroke="#ff0000"/>
<circle cx="152.06" cy="469.52" r="3.30" fill="#ff0000" stroke="#ff0000"/>
<circle cx="152.06" cy="464.39" r="3.30" fill="#ff0000" stroke="#ff0000"/>
<circle cx="152.06" cy="459.25" r="3.30" fill="#ff0000" stroke="#ff0000"/>
<circle cx="152.06" cy="454.12" r="3.30" fill="#ff0000" stroke="#ff0000"/>
<circle cx="152.06" cy="448.98" r="3.30" fill="#ff0000" stroke="#ff0000"/>
<circle cx="152.06" cy="443.84" r="3.30" fill="#ff0000" stroke="#ff0000"/>
<circle cx="152.06" cy="438.71" r="3.30" fill="#ff0000" stroke="#ff0000"/>
<circle cx="262.26" cy="542.21" r="3.30" fill="#8000ff" stroke="#8000ff"/>
<circle cx="262.26" cy="539.02" r="3.30" fill="#8000ff" stroke="#8000ff"/>
<circle cx="262.26" cy="535.84" r="3.30" fill="#8000ff" stroke="#8000ff"/>
<circle cx="262.26" cy="532.66" r="3.30" fill="#8000ff" stroke="#8000ff"/>
<circle cx="262.26" cy="529.47" r="3.30" fill="#8000ff" stroke="#8000ff"/>
<circle cx="262.26" cy="526.29" r="3.30" fill="#8000ff" stroke="#8000ff"/>
<circle cx="262.26" cy="523.10" r="3.30" fill="#1996f3" stroke="#1996f3"/>
<circle cx="262.26" cy="519.92" r="3.30" fill="#ff0000" stroke="#ff0000"/>
<circle cx="262.26" cy="516.74" r="3.30" fill="#ff0000" stroke="#ff0000"/>
<circle cx="262.26" cy="513.55" r="3.30" fill="#ff0000" stroke="#ff0000"/>
<circle cx="262.26" cy="510.37" r="3.30" fill="#ff0000" stroke="#ff0000"/>
<circle cx="262.26" cy="507.18" r="3.30" fill="#ff0000" stroke="#ff0000"/>
<circle cx="262.26" cy="504.00" r="3.30" fill="#ff0000" stroke="#ff0000"/>
<circle cx="293.74" cy="548.57" r="3.30" fill="#8000ff" stroke="#8000ff"/>
<circle cx="293.74" cy="545.68" r="3.30" fill="#8000ff" stroke="#8000ff"/>
<circle cx="293.74" cy="542.79" r="3.30" fill="#8000ff" stroke="#8000ff"/>
<circle cx="293.74" cy="539.90" r="3.30" fill="#8000ff" stroke="#8000ff"/>
<circle cx="293.74" cy="537.02" r="3.30" fill="#8000ff" stroke="#8000ff"/>
<circle cx="293.74" cy="534.13" r="3.30" fill="#8000ff" stroke="#8000ff"/>
<circle cx="293.74" cy="531.24" r="3.30" fill="#8000ff" stroke="#8000ff"/>
<circle cx="293.74" cy="528.35" r="3.30" fill="#1996f3" stroke="#1996f3"/>
<circle cx="293.74" cy="525.47" r="3.30" fill="#ff0000" stroke="#ff0000"/>
<circle cx="293.74" cy="522.58" r="3.30" fill="#ff0000" stroke="#ff0000"/>
<circle cx="293.74" cy="519.69" r="3.30" fill="#ff0000" stroke="#ff0000"/>
<circle cx="293.74" cy="516.80" r="3.30" fill="#ff0000" stroke="#ff0000"/>
<circle cx="293.74" cy="513.92" r="3.30" fill="#ff0000" stroke="#ff0000"/>
<circle cx="401.31" cy="563.10" r="3.30" fill="#8000ff" stroke="#8000ff"/>
<circle cx="401.31" cy="560.89" r="3.30" fill="#8000ff" stroke="#8000ff"/>
<circle cx="401.31" cy="558.68" r="3.30" fill="#8000ff" stroke="#8000ff"/>
<circle cx="401.31" cy="556.47" r="3.30" fill="#8000ff" stroke="#8000ff"/>
<circle cx="401.31" cy="554.26" r="3.30" fill="#8000ff" stroke="#8000ff"/>
<circle cx="401.31" cy="552.05" r="3.30" fill="#8000ff" stroke="#8000ff"/>
<circle cx="401.31" cy="549.84" r="3.30" fill="#8000ff" stroke="#8000ff"/>
<circle cx="401.31" cy="547.63" r="3.30" fill="#8000ff" stroke="#8000ff"/>
<circle cx="401.31" cy="545.42" r="3.30" fill="#8000ff" stroke="#8000ff"/>
<circle cx="401.31" cy="543.21" r="3.30" fill="#8000ff" stroke="#8000ff"/>
<circle cx="401.31" cy="541.00" r="3.30" fill="#18cde4" stroke="#18cde4"/>
<circle cx="401.31" cy="538.79" r="3.30" fill="#ff0000" stroke="#ff0000"/>
<circle cx="401.31" cy="536.58" r="3.30" fill="#ff0000" stroke="#ff0000"/>
<polyline points="99.59,413.46 104.83,422.79 120.58,445.69 131.07,457.81 152.06,476.97 262.26,527.72 293.74,535.43 401.31,553.04" fill="none" stroke="#000" stroke-width="0.69" stroke-dasharray="2.57 1.11"/>
</g>
<rect x="84.50" y="346.70" width="331.90" height="226.70" fill="none" stroke="#000" stroke-width="1.11"/>
<line x1="131.07" y1="573.40" x2="131.07" y2="578.26" stroke="#000" stroke-width="1.11"/>
<text x="131.07" y="593.90" text-anchor="middle" font-size="15.30" textLength="17.67" lengthAdjust="spacingAndGlyphs">40</text>
<line x1="183.55" y1="573.40" x2="183.55" y2="578.26" stroke="#000" stroke-width="1.11"/>
<text x="183.55" y="593.90" text-anchor="middle" font-size="15.30" textLength="17.67" lengthAdjust="spacingAndGlyphs">60</text>
<line x1="236.02" y1="573.40" x2="236.02" y2="578.26" stroke="#000" stroke-width="1.11"/>
<text x="236.02" y="593.90" text-anchor="middle" font-size="15.30" textLength="17.67" lengthAdjust="spacingAndGlyphs">80</text>
<line x1="288.49" y1="573.40" x2="288.49" y2="578.26" stroke="#000" stroke-width="1.11"/>
<text x="288.49" y="593.90" text-anchor="middle" font-size="15.30" textLength="26.50" lengthAdjust="spacingAndGlyphs">100</text>
<line x1="340.97" y1="573.40" x2="340.97" y2="578.26" stroke="#000" stroke-width="1.11"/>
<text x="340.97" y="593.90" text-anchor="middle" font-size="15.30" textLength="26.50" lengthAdjust="spacingAndGlyphs">120</text>
<line x1="393.44" y1="573.40" x2="393.44" y2="578.26" stroke="#000" stroke-width="1.11"/>
<text x="393.44" y="593.90" text-anchor="middle" font-size="15.30" textLength="26.50" lengthAdjust="spacingAndGlyphs">140</text>
<line x1="79.64" y1="546.82" x2="84.50" y2="546.82" stroke="#000" stroke-width="1.11"/>
<text x="74.78" y="552.62" text-anchor="end" font-size="15.30" textLength="22.08" lengthAdjust="spacingAndGlyphs">0.1</text>
<line x1="79.64" y1="483.14" x2="84.50" y2="483.14" stroke="#000" stroke-width="1.11"/>
<text x="74.78" y="488.94" text-anchor="end" font-size="15.30" textLength="22.08" lengthAdjust="spacingAndGlyphs">0.2</text>
<line x1="79.64" y1="419.46" x2="84.50" y2="419.46" stroke="#000" stroke-width="1.11"/>
<text x="74.78" y="425.26" text-anchor="end" font-size="15.30" textLength="22.08" lengthAdjust="spacingAndGlyphs">0.3</text>
<line x1="79.64" y1="355.78" x2="84.50" y2="355.78" stroke="#000" stroke-width="1.11"/>
<text x="74.78" y="361.58" text-anchor="end" font-size="15.30" textLength="22.08" lengthAdjust="spacingAndGlyphs">0.4</text>
<text x="250.65" y="612.90" text-anchor="middle" font-size="15.20" font-style="italic">M</text>
<text x="44.30" y="460.05" text-anchor="middle" font-size="15.20" transform="rotate(-90 44.30 460.05)" textLength="45.50" lengthAdjust="spacingAndGlyphs">train%</text>
<linearGradient id="g3" x1="0" y1="0" x2="0" y2="1"><stop offset="0.000" stop-color="#ff0000"/><stop offset="0.031" stop-color="#ff160b"/><stop offset="0.062" stop-color="#ff2f18"/><stop offset="0.094" stop-color="#ff4724"/><stop offset="0.125" stop-color="#ff5f30"/><stop offset="0.156" stop-color="#ff763d"/><stop offset="0.188" stop-color="#ff8c49"/><stop offset="0.219" stop-color="#ffa055"/><stop offset="0.250" stop-color="#ffb360"/><stop offset="0.281" stop-color="#f0c46c"/><stop offset="0.312" stop-color="#e0d377"/><stop offset="0.344" stop-color="#d0e082"/><stop offset="0.375" stop-color="#c0eb8d"/><stop offset="0.406" stop-color="#b0f397"/><stop offset="0.438" stop-color="#a0faa1"/><stop offset="0.469" stop-color="#90feab"/><stop offset="0.500" stop-color="#80ffb4"/><stop offset="0.531" stop-color="#70febc"/><stop offset="0.562" stop-color="#60fac5"/><stop offset="0.594" stop-color="#50f4cc"/><stop offset="0.625" stop-color="#40ecd4"/><stop offset="0.656" stop-color="#30e1da"/><stop offset="0.688" stop-color="#20d5e1"/><stop offset="0.719" stop-color="#10c6e6"/><stop offset="0.750" stop-color="#00b5eb"/><stop offset="0.781" stop-color="#10a2f0"/><stop offset="0.812" stop-color="#208ef4"/><stop offset="0.844" stop-color="#3079f7"/><stop offset="0.875" stop-color="#4062fa"/><stop offset="0.906" stop-color="#504afc"/><stop offset="0.938" stop-color="#6032fe"/><stop offset="0.969" stop-color="#7019ff"/><stop offset="1.000" stop-color="#8000ff"/></linearGradient>
<rect x="437.00" y="346.70" width="11.30" height="226.70" fill="url(#g3)" fill-opacity="0.70"/>
<rect x="437.00" y="346.70" width="11.30" height="226.70" fill="none" stroke="#000" stroke-width="1.11"/>
<line x1="448.30" y1="573.40" x2="453.16" y2="573.40" stroke="#000" stroke-width="1.11"/>
<text x="458.70" y="579.20" text-anchor="start" font-size="15.30" textLength="22.08" lengthAdjust="spacingAndGlyphs">0.0</text>
<line x1="448.30" y1="528.06" x2="453.16" y2="528.06" stroke="#000" stroke-width="1.11"/>
<text x="458.70" y="533.86" text-anchor="start" font-size="15.30" textLength="22.08" lengthAdjust="spacingAndGlyphs">0.2</text>
<line x1="448.30" y1="482.72" x2="453.16" y2="482.72" stroke="#000" stroke-width="1.11"/>
<text x="458.70" y="488.52" text-anchor="start" font-size="15.30" textLength="22.08" lengthAdjust="spacingAndGlyphs">0.4</text>
<line x1="448.30" y1="437.38" x2="453.16" y2="437.38" stroke="#000" stroke-width="1.11"/>
<text x="458.70" y="443.18" text-anchor="start" font-size="15.30" textLength="22.08" lengthAdjust="spacingAndGlyphs">0.6</text>
<line x1="448.30" y1="392.04" x2="453.16" y2="392.04" stroke="#000" stroke-width="1.11"/>
<text x="458.70" y="397.84" text-anchor="start" font-size="15.30" textLength="22.08" lengthAdjust="spacingAndGlyphs">0.8</text>
<line x1="448.30" y1="346.70" x2="453.16" y2="346.70" stroke="#000" stroke-width="1.11"/>
<text x="458.70" y="352.50" text-anchor="start" font-size="15.30" textLength="22.08" lengthAdjust="spacingAndGlyphs">1.0</text>
<text x="497.30" y="460.05" text-anchor="middle" font-size="15.20" transform="rotate(-90 497.30 460.05)" textLength="97.50" lengthAdjust="spacingAndGlyphs">Test accuracy</text>
</g>
<g>
<clipPath id="c4"><rect x="638.50" y="346.70" width="332.20" height="226.70"/></clipPath>
<g clip-path="url(#c4)">
<circle cx="653.60" cy="453.94" r="3.30" fill="#8000ff" stroke="#8000ff"/>
<circle cx="653.60" cy="445.87" r="3.30" fill="#8000ff" stroke="#8000ff"/>
<circle cx="653.60" cy="437.79" r="3.30" fill="#18cde4" stroke="#18cde4"/>
<circle cx="653.60" cy="429.71" r="3.30" fill="#ff0000" stroke="#ff0000"/>
<circle cx="653.60" cy="421.63" r="3.30" fill="#ff0000" stroke="#ff0000"/>
<circle cx="653.60" cy="413.55" r="3.30" fill="#ff0000" stroke="#ff0000"/>
<circle cx="653.60" cy="405.47" r="3.30" fill="#ff0000" stroke="#ff0000"/>
<circle cx="653.60" cy="397.40" r="3.30" fill="#ff0000" stroke="#ff0000"/>
<circle cx="653.60" cy="389.32" r="3.30" fill="#ff0000" stroke="#ff0000"/>
<circle cx="653.60" cy="381.24" r="3.30" fill="#ff0000" stroke="#ff0000"/>
<circle cx="653.60" cy="373.16" r="3.30" fill="#ff0000" stroke="#ff0000"/>
<circle cx="653.60" cy="365.08" r="3.30" fill="#ff0000" stroke="#ff0000"/>
<circle cx="653.60" cy="357.00" r="3.30" fill="#ff0000" stroke="#ff0000"/>
<circle cx="660.17" cy="460.92" r="3.30" fill="#8000ff" stroke="#8000ff"/>
<circle cx="660.17" cy="453.16" r="3.30" fill="#8000ff" stroke="#8000ff"/>
<circle cx="660.17" cy="445.41" r="3.30" fill="#8000ff" stroke="#8000ff"/>
<circle cx="660.17" cy="437.66" r="3.30" fill="#6826fe" stroke="#6826fe"/>
<circle cx="660.17" cy="429.91" r="3.30" fill="#4e4dfc" stroke="#4e4dfc"/>
<circle cx="660.17" cy="422.15" r="3.30" fill="#4df3ce" stroke="#4df3ce"/>
<circle cx="660.17" cy="414.40" r="3.30" fill="#b2f396" stroke="#b2f396"/>
<circle cx="660.17" cy="406.65" r="3.30" fill="#e6cd73" stroke="#e6cd73"/>
<circle cx="660.17" cy="398.89" r="3.30" fill="#ff964f" stroke="#ff964f"/>
<circle cx="660.17" cy="391.14" r="3.30" fill="#ff733b" stroke="#ff733b"/>
<circle cx="660.17" cy="383.39" r="3.30" fill="#ff2613" stroke="#ff2613"/>
<circle cx="660.17" cy="375.63" r="3.30" fill="#ff0000" stroke="#ff0000"/>
<circle cx="660.17" cy="367.88" r="3.30" fill="#ff0000" stroke="#ff0000"/>
<circle cx="666.73" cy="467.29" r="3.30" fill="#8000ff" stroke="#8000ff"/>
<circle cx="666.73" cy="459.84" r="3.30" fill="#8000ff" stroke="#8000ff"/>
<circle cx="666.73" cy="452.38" r="3.30" fill="#18cde4" stroke="#18cde4"/>
<circle cx="666.73" cy="444.93" r="3.30" fill="#ff0000" stroke="#ff0000"/>
<circle cx="666.73" cy="437.47" r="3.30" fill="#ff0000" stroke="#ff0000"/>
<circle cx="666.73" cy="430.01" r="3.30" fill="#ff0000" stroke="#ff0000"/>
<circle cx="666.73" cy="422.56" r="3.30" fill="#ff0000" stroke="#ff0000"/>
<circle cx="666.73" cy="415.10" r="3.30" fill="#ff0000" stroke="#ff0000"/>
<circle cx="666.73" cy="407.65" r="3.30" fill="#ff0000" stroke="#ff0000"/>
<circle cx="666.73" cy="400.19" r="3.30" fill="#ff0000" stroke="#ff0000"/>
<circle cx="666.73" cy="392.73" r="3.30" fill="#ff0000" stroke="#ff0000"/>
<circle cx="666.73" cy="385.28" r="3.30" fill="#ff0000" stroke="#ff0000"/>
<circle cx="666.73" cy="377.82" r="3.30" fill="#ff0000" stroke="#ff0000"/>
<circle cx="673.30" cy="473.15" r="3.30" fill="#8000ff" stroke="#8000ff"/>
<circle cx="673.30" cy="465.96" r="3.30" fill="#8000ff" stroke="#8000ff"/>
<circle cx="673.30" cy="458.78" r="3.30" fill="#8000ff" stroke="#8000ff"/>
<circle cx="673.30" cy="451.60" r="3.30" fill="#8000ff" stroke="#8000ff"/>
<circle cx="673.30" cy="444.42" r="3.30" fill="#8000ff" stroke="#8000ff"/>
<circle cx="673.30" cy="437.23" r="3.30" fill="#6826fe" stroke="#6826fe"/>
<circle cx="673.30" cy="430.05" r="3.30" fill="#1996f3" stroke="#1996f3"/>
<circle cx="673.30" cy="422.87" r="3.30" fill="#80ffb4" stroke="#80ffb4"/>
<circle cx="673.30" cy="415.68" r="3.30" fill="#b2f396" stroke="#b2f396"/>
<circle cx="673.30" cy="408.50" r="3.30" fill="#e6cd73" stroke="#e6cd73"/>
<circle cx="673.30" cy="401.32" r="3.30" fill="#ff964f" stroke="#ff964f"/>
<circle cx="673.30" cy="394.13" r="3.30" fill="#ff733b" stroke="#ff733b"/>
<circle cx="673.30" cy="386.95" r="3.30" fill="#ff2613" stroke="#ff2613"/>
<circle cx="679.86" cy="478.54" r="3.30" fill="#8000ff" stroke="#8000ff"/>
<circle cx="679.86" cy="471.61" r="3.30" fill="#8000ff" stroke="#8000ff"/>
<circle cx="679.86" cy="464.68" r="3.30" fill="#8000ff" stroke="#8000ff"/>
<circle cx="679.86" cy="457.75" r="3.30" fill="#8000ff" stroke="#8000ff"/>
<circle cx="679.86" cy="450.82" r="3.30" fill="#8000ff" stroke="#8000ff"/>
<circle cx="679.86" cy="443.89" r="3.30" fill="#1996f3" stroke="#1996f3"/>
<circle cx="679.86" cy="436.96" r="3.30" fill="#4df3ce" stroke="#4df3ce"/>
<circle cx="679.86" cy="430.02" r="3.30" fill="#b2f396" stroke="#b2f396"/>
<circle cx="679.86" cy="423.09" r="3.30" fill="#e6cd73" stroke="#e6cd73"/>
<circle cx="679.86" cy="416.16" r="3.30" fill="#ff964f" stroke="#ff964f"/>
<circle cx="679.86" cy="409.23" r="3.30" fill="#ff964f" stroke="#ff964f"/>
<circle cx="679.86" cy="402.30" r="3.30" fill="#ff4d27" stroke="#ff4d27"/>
<circle cx="679.86" cy="395.37" r="3.30" fill="#ff0000" stroke="#ff0000"/>
<circle cx="686.43" cy="483.54" r="3.30" fill="#8000ff" stroke="#8000ff"/>
<circle cx="686.43" cy="476.84" r="3.30" fill="#8000ff" stroke="#8000ff"/>
<circle cx="686.43" cy="470.14" r="3.30" fill="#8000ff" stroke="#8000ff"/>
<circle cx="686.43" cy="463.44" r="3.30" fill="#8000ff" stroke="#8000ff"/>
<circle cx="686.43" cy="456.74" r="3.30" fill="#8000ff" stroke="#8000ff"/>
<circle cx="686.43" cy="450.04" r="3.30" fill="#18cde4" stroke="#18cde4"/>
<circle cx="686.43" cy="443.34" r="3.30" fill="#b2f396" stroke="#b2f396"/>
<circle cx="686.43" cy="436.64" r="3.30" fill="#e6cd73" stroke="#e6cd73"/>
<circle cx="686.43" cy="429.95" r="3.30" fill="#ff964f" stroke="#ff964f"/>
<circle cx="686.43" cy="423.25" r="3.30" fill="#ff733b" stroke="#ff733b"/>
<circle cx="686.43" cy="416.55" r="3.30" fill="#ff0000" stroke="#ff0000"/>
<circle cx="686.43" cy="409.85" r="3.30" fill="#ff0000" stroke="#ff0000"/>
<circle cx="686.43" cy="403.15" r="3.30" fill="#ff0000" stroke="#ff0000"/>
<circle cx="692.99" cy="488.17" r="3.30" fill="#8000ff" stroke="#8000ff"/>
<circle cx="692.99" cy="481.69" r="3.30" fill="#8000ff" stroke="#8000ff"/>
<circle cx="692.99" cy="475.20" r="3.30" fill="#8000ff" stroke="#8000ff"/>
<circle cx="692.99" cy="468.72" r="3.30" fill="#ff4d27" stroke="#ff4d27"/>
<circle cx="692.99" cy="462.24" r="3.30" fill="#ff0000" stroke="#ff0000"/>
<circle cx="692.99" cy="455.75" r="3.30" fill="#ff0000" stroke="#ff0000"/>
<circle cx="692.99" cy="449.27" r="3.30" fill="#ff0000" stroke="#ff0000"/>
<circle cx="692.99" cy="442.79" r="3.30" fill="#ff0000" stroke="#ff0000"/>
<circle cx="692.99" cy="436.31" r="3.30" fill="#ff0000" stroke="#ff0000"/>
<circle cx="692.99" cy="429.82" r="3.30" fill="#ff0000" stroke="#ff0000"/>
<circle cx="692.99" cy="423.34" r="3.30" fill="#ff0000" stroke="#ff0000"/>
<circle cx="692.99" cy="416.86" r="3.30" fill="#ff0000" stroke="#ff0000"/>
<circle cx="692.99" cy="410.38" r="3.30" fill="#ff0000" stroke="#ff0000"/>
<circle cx="699.56" cy="492.48" r="3.30" fill="#8000ff" stroke="#8000ff"/>
<circle cx="699.56" cy="486.20" r="3.30" fill="#8000ff" stroke="#8000ff"/>
<circle cx="699.56" cy="479.92" r="3.30" fill="#8000ff" stroke="#8000ff"/>
<circle cx="699.56" cy="473.64" r="3.30" fill="#8000ff" stroke="#8000ff"/>
<circle cx="699.56" cy="467.35" r="3.30" fill="#8000ff" stroke="#8000ff"/>
<circle cx="699.56" cy="461.07" r="3.30" fill="#8000ff" stroke="#8000ff"/>
<circle cx="699.56" cy="454.79" r="3.30" fill="#18cde4" stroke="#18cde4"/>
<circle cx="699.56" cy="448.51" r="3.30" fill="#80ffb4" stroke="#80ffb4"/>
<circle cx="699.56" cy="442.23" r="3.30" fill="#b2f396" stroke="#b2f396"/>
<circle cx="699.56" cy="435.95" r="3.30" fill="#e6cd73" stroke="#e6cd73"/>
<circle cx="699.56" cy="429.66" r="3.30" fill="#ff964f" stroke="#ff964f"/>
<circle cx="699.56" cy="423.38" r="3.30" fill="#ff733b" stroke="#ff733b"/>
<circle cx="699.56" cy="417.10" r="3.30" fill="#ff0000" stroke="#ff0000"/>
<circle cx="706.12" cy="496.51" r="3.30" fill="#8000ff" stroke="#8000ff"/>
<circle cx="706.12" cy="490.41" r="3.30" fill="#8000ff" stroke="#8000ff"/>
<circle cx="706.12" cy="484.32" r="3.30" fill="#8000ff" stroke="#8000ff"/>
<circle cx="706.12" cy="478.22" r="3.30" fill="#cce385" stroke="#cce385"/>
<circle cx="706.12" cy="472.13" r="3.30" fill="#ff0000" stroke="#ff0000"/>
<circle cx="706.12" cy="466.04" r="3.30" fill="#ff0000" stroke="#ff0000"/>
<circle cx="706.12" cy="459.94" r="3.30" fill="#ff0000" stroke="#ff0000"/>
<circle cx="706.12" cy="453.85" r="3.30" fill="#ff0000" stroke="#ff0000"/>
<circle cx="706.12" cy="447.75" r="3.30" fill="#ff0000" stroke="#ff0000"/>
<circle cx="706.12" cy="441.66" r="3.30" fill="#ff0000" stroke="#ff0000"/>
<circle cx="706.12" cy="435.57" r="3.30" fill="#ff0000" stroke="#ff0000"/>
<circle cx="706.12" cy="429.47" r="3.30" fill="#ff0000" stroke="#ff0000"/>
<circle cx="706.12" cy="423.38" r="3.30" fill="#ff0000" stroke="#ff0000"/>
<circle cx="712.69" cy="500.27" r="3.30" fill="#8000ff" stroke="#8000ff"/>
<circle cx="712.69" cy="494.36" r="3.30" fill="#8000ff" stroke="#8000ff"/>
<circle cx="712.69" cy="488.44" r="3.30" fill="#8000ff" stroke="#8000ff"/>
<circle cx="712.69" cy="482.52" r="3.30" fill="#8000ff" stroke="#8000ff"/>
<circle cx="712.69" cy="476.60" r="3.30" fill="#8000ff" stroke="#8000ff"/>
<circle cx="712.69" cy="470.68" r="3.30" fill="#4e4dfc" stroke="#4e4dfc"/>
<circle cx="712.69" cy="464.76" r="3.30" fill="#80ffb4" stroke="#80ffb4"/>
<circle cx="712.69" cy="458.85" r="3.30" fill="#b2f396" stroke="#b2f396"/>
<circle cx="712.69" cy="452.93" r="3.30" fill="#e6cd73" stroke="#e6cd73"/>
<circle cx="712.69" cy="447.01" r="3.30" fill="#ff964f" stroke="#ff964f"/>
<circle cx="712.69" cy="441.09" r="3.30" fill="#ff0000" stroke="#ff0000"/>
<circle cx="712.69" cy="435.17" r="3.30" fill="#ff0000" stroke="#ff0000"/>
<circle cx="712.69" cy="429.25" r="3.30" fill="#ff0000" stroke="#ff0000"/>
<circle cx="719.25" cy="503.81" r="3.30" fill="#8000ff" stroke="#8000ff"/>
<circle cx="719.25" cy="498.05" r="3.30" fill="#8000ff" stroke="#8000ff"/>
<circle cx="719.25" cy="492.30" r="3.30" fill="#8000ff" stroke="#8000ff"/>
<circle cx="719.25" cy="486.55" r="3.30" fill="#80ffb4" stroke="#80ffb4"/>
<circle cx="719.25" cy="480.79" r="3.30" fill="#ff0000" stroke="#ff0000"/>
<circle cx="719.25" cy="475.04" r="3.30" fill="#ff0000" stroke="#ff0000"/>
<circle cx="719.25" cy="469.29" r="3.30" fill="#ff0000" stroke="#ff0000"/>
<circle cx="719.25" cy="463.53" r="3.30" fill="#ff0000" stroke="#ff0000"/>
<circle cx="719.25" cy="457.78" r="3.30" fill="#ff0000" stroke="#ff0000"/>
<circle cx="719.25" cy="452.03" r="3.30" fill="#ff0000" stroke="#ff0000"/>
<circle cx="719.25" cy="446.27" r="3.30" fill="#ff0000" stroke="#ff0000"/>
<circle cx="719.25" cy="440.52" r="3.30" fill="#ff0000" stroke="#ff0000"/>
<circle cx="719.25" cy="434.76" r="3.30" fill="#ff0000" stroke="#ff0000"/>
<circle cx="725.82" cy="507.13" r="3.30" fill="#8000ff" stroke="#8000ff"/>
<circle cx="725.82" cy="501.53" r="3.30" fill="#8000ff" stroke="#8000ff"/>
<circle cx="725.82" cy="495.93" r="3.30" fill="#8000ff" stroke="#8000ff"/>
<circle cx="725.82" cy="490.33" r="3.30" fill="#8000ff" stroke="#8000ff"/>
<circle cx="725.82" cy="484.74" r="3.30" fill="#8000ff" stroke="#8000ff"/>
<circle cx="725.82" cy="479.14" r="3.30" fill="#8000ff" stroke="#8000ff"/>
<circle cx="725.82" cy="473.54" r="3.30" fill="#8000ff" stroke="#8000ff"/>
<circle cx="725.82" cy="467.94" r="3.30" fill="#1996f3" stroke="#1996f3"/>
<circle cx="725.82" cy="462.34" r="3.30" fill="#4df3ce" stroke="#4df3ce"/>
<circle cx="725.82" cy="456.74" r="3.30" fill="#80ffb4" stroke="#80ffb4"/>
<circle cx="725.82" cy="451.14" r="3.30" fill="#b2f396" stroke="#b2f396"/>
<circle cx="725.82" cy="445.54" r="3.30" fill="#ff964f" stroke="#ff964f"/>
<circle cx="725.82" cy="439.95" r="3.30" fill="#ff4d27" stroke="#ff4d27"/>
<circle cx="732.38" cy="510.26" r="3.30" fill="#8000ff" stroke="#8000ff"/>
<circle cx="732.38" cy="504.81" r="3.30" fill="#8000ff" stroke="#8000ff"/>
<circle cx="732.38" cy="499.36" r="3.30" fill="#8000ff" stroke="#8000ff"/>
<circle cx="732.38" cy="493.90" r="3.30" fill="#1996f3" stroke="#1996f3"/>
<circle cx="732.38" cy="488.45" r="3.30" fill="#ff0000" stroke="#ff0000"/>
<circle cx="732.38" cy="483.00" r="3.30" fill="#ff0000" stroke="#ff0000"/>
<circle cx="732.38" cy="477.54" r="3.30" fill="#ff0000" stroke="#ff0000"/>
<circle cx="732.38" cy="472.09" r="3.30" fill="#ff0000" stroke="#ff0000"/>
<circle cx="732.38" cy="466.64" r="3.30" fill="#ff0000" stroke="#ff0000"/>
<circle cx="732.38" cy="461.19" r="3.30" fill="#ff0000" stroke="#ff0000"/>
<circle cx="732.38" cy="455.73" r="3.30" fill="#ff0000" stroke="#ff0000"/>
<circle cx="732.38" cy="450.28" r="3.30" fill="#ff0000" stroke="#ff0000"/>
<circle cx="732.38" cy="444.83" r="3.30" fill="#ff0000" stroke="#ff0000"/>
<circle cx="738.95" cy="513.22" r="3.30" fill="#8000ff" stroke="#8000ff"/>
<circle cx="738.95" cy="507.90" r="3.30" fill="#8000ff" stroke="#8000ff"/>
<circle cx="738.95" cy="502.59" r="3.30" fill="#8000ff" stroke="#8000ff"/>
<circle cx="738.95" cy="497.27" r="3.30" fill="#8000ff" stroke="#8000ff"/>
<circle cx="738.95" cy="491.96" r="3.30" fill="#8000ff" stroke="#8000ff"/>
<circle cx="738.95" cy="486.64" r="3.30" fill="#8000ff" stroke="#8000ff"/>
<circle cx="738.95" cy="481.33" r="3.30" fill="#8000ff" stroke="#8000ff"/>
<circle cx="738.95" cy="476.01" r="3.30" fill="#18cde4" stroke="#18cde4"/>
<circle cx="738.95" cy="470.70" r="3.30" fill="#80ffb4" stroke="#80ffb4"/>
<circle cx="738.95" cy="465.38" r="3.30" fill="#b2f396" stroke="#b2f396"/>
<circle cx="738.95" cy="460.07" r="3.30" fill="#e6cd73" stroke="#e6cd73"/>
<circle cx="738.95" cy="454.75" r="3.30" fill="#ff964f" stroke="#ff964f"/>
<circle cx="738.95" cy="449.44" r="3.30" fill="#ff4d27" stroke="#ff4d27"/>
<circle cx="745.51" cy="516.01" r="3.30" fill="#8000ff" stroke="#8000ff"/>
<circle cx="745.51" cy="510.82" r="3.30" fill="#8000ff" stroke="#8000ff"/>
<circle cx="745.51" cy="505.64" r="3.30" fill="#8000ff" stroke="#8000ff"/>
<circle cx="745.51" cy="500.46" r="3.30" fill="#8000ff" stroke="#8000ff"/>
<circle cx="745.51" cy="495.27" r="3.30" fill="#ff0000" stroke="#ff0000"/>
<circle cx="745.51" cy="490.09" r="3.30" fill="#ff0000" stroke="#ff0000"/>
<circle cx="745.51" cy="484.90" r="3.30" fill="#ff0000" stroke="#ff0000"/>
<circle cx="745.51" cy="479.72" r="3.30" fill="#ff0000" stroke="#ff0000"/>
<circle cx="745.51" cy="474.53" r="3.30" fill="#ff0000" stroke="#ff0000"/>
<circle cx="745.51" cy="469.35" r="3.30" fill="#ff0000" stroke="#ff0000"/>
<circle cx="745.51" cy="464.16" r="3.30" fill="#ff0000" stroke="#ff0000"/>
<circle cx="745.51" cy="458.98" r="3.30" fill="#ff0000" stroke="#ff0000"/>
<circle cx="745.51" cy="453.79" r="3.30" fill="#ff0000" stroke="#ff0000"/>
<circle cx="752.08" cy="518.66" r="3.30" fill="#8000ff" stroke="#8000ff"/>
<circle cx="752.08" cy="513.59" r="3.30" fill="#8000ff" stroke="#8000ff"/>
<circle cx="752.08" cy="508.53" r="3.30" fill="#8000ff" stroke="#8000ff"/>
<circle cx="752.08" cy="503.47" r="3.30" fill="#8000ff" stroke="#8000ff"/>
<circle cx="752.08" cy="498.41" r="3.30" fill="#8000ff" stroke="#8000ff"/>
<circle cx="752.08" cy="493.35" r="3.30" fill="#8000ff" stroke="#8000ff"/>
<circle cx="752.08" cy="488.29" r="3.30" fill="#18cde4" stroke="#18cde4"/>
<circle cx="752.08" cy="483.23" r="3.30" fill="#80ffb4" stroke="#80ffb4"/>
<circle cx="752.08" cy="478.17" r="3.30" fill="#b2f396" stroke="#b2f396"/>
<circle cx="752.08" cy="473.10" r="3.30" fill="#e6cd73" stroke="#e6cd73"/>
<circle cx="752.08" cy="468.04" r="3.30" fill="#ff964f" stroke="#ff964f"/>
<circle cx="752.08" cy="462.98" r="3.30" fill="#ff0000" stroke="#ff0000"/>
<circle cx="752.08" cy="457.92" r="3.30" fill="#ff0000" stroke="#ff0000"/>
<circle cx="758.64" cy="521.17" r="3.30" fill="#8000ff" stroke="#8000ff"/>
<circle cx="758.64" cy="516.22" r="3.30" fill="#8000ff" stroke="#8000ff"/>
<circle cx="758.64" cy="511.28" r="3.30" fill="#8000ff" stroke="#8000ff"/>
<circle cx="758.64" cy="506.33" r="3.30" fill="#8000ff" stroke="#8000ff"/>
<circle cx="758.64" cy="501.39" r="3.30" fill="#8000ff" stroke="#8000ff"/>
<circle cx="758.64" cy="496.45" r="3.30" fill="#8000ff" stroke="#8000ff"/>
<circle cx="758.64" cy="491.50" r="3.30" fill="#8000ff" stroke="#8000ff"/>
<circle cx="758.64" cy="486.56" r="3.30" fill="#8000ff" stroke="#8000ff"/>
<circle cx="758.64" cy="481.61" r="3.30" fill="#1996f3" stroke="#1996f3"/>
<circle cx="758.64" cy="476.67" r="3.30" fill="#4df3ce" stroke="#4df3ce"/>
<circle cx="758.64" cy="471.72" r="3.30" fill="#b2f396" stroke="#b2f396"/>
<circle cx="758.64" cy="466.78" r="3.30" fill="#e6cd73" stroke="#e6cd73"/>
<circle cx="758.64" cy="461.84" r="3.30" fill="#ff964f" stroke="#ff964f"/>
<circle cx="765.21" cy="523.55" r="3.30" fill="#8000ff" stroke="#8000ff"/>
<circle cx="765.21" cy="518.72" r="3.30" fill="#8000ff" stroke="#8000ff"/>
<circle cx="765.21" cy="513.89" r="3.30" fill="#8000ff" stroke="#8000ff"/>
<circle cx="765.21" cy="509.05" r="3.30" fill="#8000ff" stroke="#8000ff"/>
<circle cx="765.21" cy="504.22" r="3.30" fill="#8000ff" stroke="#8000ff"/>
<circle cx="765.21" cy="499.39" r="3.30" fill="#8000ff" stroke="#8000ff"/>
<circle cx="765.21" cy="494.55" r="3.30" fill="#8000ff" stroke="#8000ff"/>
<circle cx="765.21" cy="489.72" r="3.30" fill="#4df3ce" stroke="#4df3ce"/>
<circle cx="765.21" cy="484.89" r="3.30" fill="#80ffb4" stroke="#80ffb4"/>
<circle cx="765.21" cy="480.06" r="3.30" fill="#b2f396" stroke="#b2f396"/>
<circle cx="765.21" cy="475.22" r="3.30" fill="#ff4d27" stroke="#ff4d27"/>
<circle cx="765.21" cy="470.39" r="3.30" fill="#ff0000" stroke="#ff0000"/>
<circle cx="765.21" cy="465.56" r="3.30" fill="#ff0000" stroke="#ff0000"/>
<circle cx="771.77" cy="525.82" r="3.30" fill="#8000ff" stroke="#8000ff"/>
<circle cx="771.77" cy="521.10" r="3.30" fill="#8000ff" stroke="#8000ff"/>
<circle cx="771.77" cy="516.37" r="3.30" fill="#8000ff" stroke="#8000ff"/>
<circle cx="771.77" cy="511.64" r="3.30" fill="#8000ff" stroke="#8000ff"/>
<circle cx="771.77" cy="506.91" r="3.30" fill="#8000ff" stroke="#8000ff"/>
<circle cx="771.77" cy="502.19" r="3.30" fill="#8000ff" stroke="#8000ff"/>
<circle cx="771.77" cy="497.46" r="3.30" fill="#8000ff" stroke="#8000ff"/>
<circle cx="771.77" cy="492.73" r="3.30" fill="#8000ff" stroke="#8000ff"/>
<circle cx="771.77" cy="488.01" r="3.30" fill="#8000ff" stroke="#8000ff"/>
<circle cx="771.77" cy="483.28" r="3.30" fill="#8000ff" stroke="#8000ff"/>
<circle cx="771.77" cy="478.55" r="3.30" fill="#1996f3" stroke="#1996f3"/>
<circle cx="771.77" cy="473.82" r="3.30" fill="#4df3ce" stroke="#4df3ce"/>
<circle cx="771.77" cy="469.10" r="3.30" fill="#cce385" stroke="#cce385"/>
<circle cx="778.34" cy="527.99" r="3.30" fill="#8000ff" stroke="#8000ff"/>
<circle cx="778.34" cy="523.36" r="3.30" fill="#8000ff" stroke="#8000ff"/>
<circle cx="778.34" cy="518.73" r="3.30" fill="#8000ff" stroke="#8000ff"/>
<circle cx="778.34" cy="514.11" r="3.30" fill="#8000ff" stroke="#8000ff"/>
<circle cx="778.34" cy="509.48" r="3.30" fill="#8000ff" stroke="#8000ff"/>
<circle cx="778.34" cy="504.85" r="3.30" fill="#8000ff" stroke="#8000ff"/>
<circle cx="778.34" cy="500.23" r="3.30" fill="#8000ff" stroke="#8000ff"/>
<circle cx="778.34" cy="495.60" r="3.30" fill="#8000ff" stroke="#8000ff"/>
<circle cx="778.34" cy="490.97" r="3.30" fill="#8000ff" stroke="#8000ff"/>
<circle cx="778.34" cy="486.35" r="3.30" fill="#8000ff" stroke="#8000ff"/>
<circle cx="778.34" cy="481.72" r="3.30" fill="#1996f3" stroke="#1996f3"/>
<circle cx="778.34" cy="477.10" r="3.30" fill="#4df3ce" stroke="#4df3ce"/>
<circle cx="778.34" cy="472.47" r="3.30" fill="#cce385" stroke="#cce385"/>
<circle cx="784.90" cy="530.05" r="3.30" fill="#8000ff" stroke="#8000ff"/>
<circle cx="784.90" cy="525.52" r="3.30" fill="#8000ff" stroke="#8000ff"/>
<circle cx="784.90" cy="520.99" r="3.30" fill="#8000ff" stroke="#8000ff"/>
<circle cx="784.90" cy="516.46" r="3.30" fill="#8000ff" stroke="#8000ff"/>
<circle cx="784.90" cy="511.93" r="3.30" fill="#4e4dfc" stroke="#4e4dfc"/>
<circle cx="784.90" cy="507.40" r="3.30" fill="#ff0000" stroke="#ff0000"/>
<circle cx="784.90" cy="502.87" r="3.30" fill="#ff0000" stroke="#ff0000"/>
<circle cx="784.90" cy="498.34" r="3.30" fill="#ff0000" stroke="#ff0000"/>
<circle cx="784.90" cy="493.81" r="3.30" fill="#ff0000" stroke="#ff0000"/>
<circle cx="784.90" cy="489.28" r="3.30" fill="#ff0000" stroke="#ff0000"/>
<circle cx="784.90" cy="484.75" r="3.30" fill="#ff0000" stroke="#ff0000"/>
<circle cx="784.90" cy="480.22" r="3.30" fill="#ff0000" stroke="#ff0000"/>
<circle cx="784.90" cy="475.69" r="3.30" fill="#ff0000" stroke="#ff0000"/>
<circle cx="791.47" cy="532.02" r="3.30" fill="#8000ff" stroke="#8000ff"/>
<circle cx="791.47" cy="527.58" r="3.30" fill="#8000ff" stroke="#8000ff"/>
<circle cx="791.47" cy="523.14" r="3.30" fill="#8000ff" stroke="#8000ff"/>
<circle cx="791.47" cy="518.71" r="3.30" fill="#8000ff" stroke="#8000ff"/>
<circle cx="791.47" cy="514.27" r="3.30" fill="#8000ff" stroke="#8000ff"/>
<circle cx="791.47" cy="509.83" r="3.30" fill="#8000ff" stroke="#8000ff"/>
<circle cx="791.47" cy="505.39" r="3.30" fill="#8000ff" stroke="#8000ff"/>
<circle cx="791.47" cy="500.95" r="3.30" fill="#8000ff" stroke="#8000ff"/>
<circle cx="791.47" cy="496.51" r="3.30" fill="#4df3ce" stroke="#4df3ce"/>
<circle cx="791.47" cy="492.08" r="3.30" fill="#80ffb4" stroke="#80ffb4"/>
<circle cx="791.47" cy="487.64" r="3.30" fill="#b2f396" stroke="#b2f396"/>
<circle cx="791.47" cy="483.20" r="3.30" fill="#ff4d27" stroke="#ff4d27"/>
<circle cx="791.47" cy="478.76" r="3.30" fill="#ff0000" stroke="#ff0000"/>
<circle cx="798.03" cy="533.91" r="3.30" fill="#8000ff" stroke="#8000ff"/>
<circle cx="798.03" cy="529.55" r="3.30" fill="#8000ff" stroke="#8000ff"/>
<circle cx="798.03" cy="525.20" r="3.30" fill="#8000ff" stroke="#8000ff"/>
<circle cx="798.03" cy="520.85" r="3.30" fill="#8000ff" stroke="#8000ff"/>
<circle cx="798.03" cy="516.50" r="3.30" fill="#8000ff" stroke="#8000ff"/>
<circle cx="798.03" cy="512.15" r="3.30" fill="#8000ff" stroke="#8000ff"/>
<circle cx="798.03" cy="507.80" r="3.30" fill="#8000ff" stroke="#8000ff"/>
<circle cx="798.03" cy="503.45" r="3.30" fill="#8000ff" stroke="#8000ff"/>
<circle cx="798.03" cy="499.10" r="3.30" fill="#8000ff" stroke="#8000ff"/>
<circle cx="798.03" cy="494.75" r="3.30" fill="#8000ff" stroke="#8000ff"/>
<circle cx="798.03" cy="490.40" r="3.30" fill="#8000ff" stroke="#8000ff"/>
<circle cx="798.03" cy="486.05" r="3.30" fill="#4df3ce" stroke="#4df3ce"/>
<circle cx="798.03" cy="481.70" r="3.30" fill="#cce385" stroke="#cce385"/>
<circle cx="804.60" cy="535.71" r="3.30" fill="#8000ff" stroke="#8000ff"/>
<circle cx="804.60" cy="531.44" r="3.30" fill="#8000ff" stroke="#8000ff"/>
<circle cx="804.60" cy="527.18" r="3.30" fill="#8000ff" stroke="#8000ff"/>
<circle cx="804.60" cy="522.91" r="3.30" fill="#8000ff" stroke="#8000ff"/>
<circle cx="804.60" cy="518.64" r="3.30" fill="#8000ff" stroke="#8000ff"/>
<circle cx="804.60" cy="514.38" r="3.30" fill="#8000ff" stroke="#8000ff"/>
<circle cx="804.60" cy="510.11" r="3.30" fill="#8000ff" stroke="#8000ff"/>
<circle cx="804.60" cy="505.84" r="3.30" fill="#8000ff" stroke="#8000ff"/>
<circle cx="804.60" cy="501.58" r="3.30" fill="#8000ff" stroke="#8000ff"/>
<circle cx="804.60" cy="497.31" r="3.30" fill="#8000ff" stroke="#8000ff"/>
<circle cx="804.60" cy="493.05" r="3.30" fill="#8000ff" stroke="#8000ff"/>
<circle cx="804.60" cy="488.78" r="3.30" fill="#8000ff" stroke="#8000ff"/>
<circle cx="804.60" cy="484.51" r="3.30" fill="#8000ff" stroke="#8000ff"/>
<circle cx="811.17" cy="537.44" r="3.30" fill="#8000ff" stroke="#8000ff"/>
<circle cx="811.17" cy="533.25" r="3.30" fill="#8000ff" stroke="#8000ff"/>
<circle cx="811.17" cy="529.07" r="3.30" fill="#8000ff" stroke="#8000ff"/>
<circle cx="811.17" cy="524.88" r="3.30" fill="#8000ff" stroke="#8000ff"/>
<circle cx="811.17" cy="520.70" r="3.30" fill="#8000ff" stroke="#8000ff"/>
<circle cx="811.17" cy="516.51" r="3.30" fill="#18cde4" stroke="#18cde4"/>
<circle cx="811.17" cy="512.32" r="3.30" fill="#ff4d27" stroke="#ff4d27"/>
<circle cx="811.17" cy="508.14" r="3.30" fill="#ff0000" stroke="#ff0000"/>
<circle cx="811.17" cy="503.95" r="3.30" fill="#ff0000" stroke="#ff0000"/>
<circle cx="811.17" cy="499.77" r="3.30" fill="#ff0000" stroke="#ff0000"/>
<circle cx="811.17" cy="495.58" r="3.30" fill="#ff0000" stroke="#ff0000"/>
<circle cx="811.17" cy="491.40" r="3.30" fill="#ff0000" stroke="#ff0000"/>
<circle cx="811.17" cy="487.21" r="3.30" fill="#ff0000" stroke="#ff0000"/>
<circle cx="817.73" cy="539.10" r="3.30" fill="#8000ff" stroke="#8000ff"/>
<circle cx="817.73" cy="534.99" r="3.30" fill="#8000ff" stroke="#8000ff"/>
<circle cx="817.73" cy="530.88" r="3.30" fill="#8000ff" stroke="#8000ff"/>
<circle cx="817.73" cy="526.77" r="3.30" fill="#8000ff" stroke="#8000ff"/>
<circle cx="817.73" cy="522.66" r="3.30" fill="#8000ff" stroke="#8000ff"/>
<circle cx="817.73" cy="518.55" r="3.30" fill="#8000ff" stroke="#8000ff"/>
<circle cx="817.73" cy="514.45" r="3.30" fill="#8000ff" stroke="#8000ff"/>
<circle cx="817.73" cy="510.34" r="3.30" fill="#8000ff" stroke="#8000ff"/>
<circle cx="817.73" cy="506.23" r="3.30" fill="#8000ff" stroke="#8000ff"/>
<circle cx="817.73" cy="502.12" r="3.30" fill="#8000ff" stroke="#8000ff"/>
<circle cx="817.73" cy="498.01" r="3.30" fill="#8000ff" stroke="#8000ff"/>
<circle cx="817.73" cy="493.90" r="3.30" fill="#8000ff" stroke="#8000ff"/>
<circle cx="817.73" cy="489.80" r="3.30" fill="#4df3ce" stroke="#4df3ce"/>
<circle cx="824.30" cy="540.69" r="3.30" fill="#8000ff" stroke="#8000ff"/>
<circle cx="824.30" cy="536.65" r="3.30" fill="#8000ff" stroke="#8000ff"/>
<circle cx="824.30" cy="532.62" r="3.30" fill="#8000ff" stroke="#8000ff"/>
<circle cx="824.30" cy="528.59" r="3.30" fill="#8000ff" stroke="#8000ff"/>
<circle cx="824.30" cy="524.55" r="3.30" fill="#8000ff" stroke="#8000ff"/>
<circle cx="824.30" cy="520.52" r="3.30" fill="#8000ff" stroke="#8000ff"/>
<circle cx="824.30" cy="516.48" r="3.30" fill="#ff0000" stroke="#ff0000"/>
<circle cx="824.30" cy="512.45" r="3.30" fill="#ff0000" stroke="#ff0000"/>
<circle cx="824.30" cy="508.42" r="3.30" fill="#ff0000" stroke="#ff0000"/>
<circle cx="824.30" cy="504.38" r="3.30" fill="#ff0000" stroke="#ff0000"/>
<circle cx="824.30" cy="500.35" r="3.30" fill="#ff0000" stroke="#ff0000"/>
<circle cx="824.30" cy="496.31" r="3.30" fill="#ff0000" stroke="#ff0000"/>
<circle cx="824.30" cy="492.28" r="3.30" fill="#ff0000" stroke="#ff0000"/>
<circle cx="830.86" cy="542.22" r="3.30" fill="#8000ff" stroke="#8000ff"/>
<circle cx="830.86" cy="538.26" r="3.30" fill="#8000ff" stroke="#8000ff"/>
<circle cx="830.86" cy="534.29" r="3.30" fill="#8000ff" stroke="#8000ff"/>
<circle cx="830.86" cy="530.33" r="3.30" fill="#8000ff" stroke="#8000ff"/>
<circle cx="830.86" cy="526.37" r="3.30" fill="#8000ff" stroke="#8000ff"/>
<circle cx="830.86" cy="522.40" r="3.30" fill="#8000ff" stroke="#8000ff"/>
<circle cx="830.86" cy="518.44" r="3.30" fill="#8000ff" stroke="#8000ff"/>
<circle cx="830.86" cy="514.48" r="3.30" fill="#8000ff" stroke="#8000ff"/>
<circle cx="830.86" cy="510.52" r="3.30" fill="#8000ff" stroke="#8000ff"/>
<circle cx="830.86" cy="506.55" r="3.30" fill="#8000ff" stroke="#8000ff"/>
<circle cx="830.86" cy="502.59" r="3.30" fill="#8000ff" stroke="#8000ff"/>
<circle cx="830.86" cy="498.63" r="3.30" fill="#8000ff" stroke="#8000ff"/>
<circle cx="830.86" cy="494.66" r="3.30" fill="#8000ff" stroke="#8000ff"/>
<circle cx="837.43" cy="543.69" r="3.30" fill="#8000ff" stroke="#8000ff"/>
<circle cx="837.43" cy="539.80" r="3.30" fill="#8000ff" stroke="#8000ff"/>
<circle cx="837.43" cy="535.90" r="3.30" fill="#8000ff" stroke="#8000ff"/>
<circle cx="837.43" cy="532.01" r="3.30" fill="#8000ff" stroke="#8000ff"/>
<circle cx="837.43" cy="528.11" r="3.30" fill="#8000ff" stroke="#8000ff"/>
<circle cx="837.43" cy="524.22" r="3.30" fill="#8000ff" stroke="#8000ff"/>
<circle cx="837.43" cy="520.33" r="3.30" fill="#8000ff" stroke="#8000ff"/>
<circle cx="837.43" cy="516.43" r="3.30" fill="#8000ff" stroke="#8000ff"/>
<circle cx="837.43" cy="512.54" r="3.30" fill="#8000ff" stroke="#8000ff"/>
<circle cx="837.43" cy="508.64" r="3.30" fill="#8000ff" stroke="#8000ff"/>
<circle cx="837.43" cy="504.75" r="3.30" fill="#8000ff" stroke="#8000ff"/>
<circle cx="837.43" cy="500.85" r="3.30" fill="#8000ff" stroke="#8000ff"/>
<circle cx="837.43" cy="496.96" r="3.30" fill="#8000ff" stroke="#8000ff"/>
<circle cx="843.99" cy="545.11" r="3.30" fill="#8000ff" stroke="#8000ff"/>
<circle cx="843.99" cy="541.28" r="3.30" fill="#8000ff" stroke="#8000ff"/>
<circle cx="843.99" cy="537.45" r="3.30" fill="#8000ff" stroke="#8000ff"/>
<circle cx="843.99" cy="533.62" r="3.30" fill="#8000ff" stroke="#8000ff"/>
<circle cx="843.99" cy="529.79" r="3.30" fill="#8000ff" stroke="#8000ff"/>
<circle cx="843.99" cy="525.97" r="3.30" fill="#8000ff" stroke="#8000ff"/>
<circle cx="843.99" cy="522.14" r="3.30" fill="#8000ff" stroke="#8000ff"/>
<circle cx="843.99" cy="518.31" r="3.30" fill="#8000ff" stroke="#8000ff"/>
<circle cx="843.99" cy="514.48" r="3.30" fill="#8000ff" stroke="#8000ff"/>
<circle cx="843.99" cy="510.65" r="3.30" fill="#1996f3" stroke="#1996f3"/>
<circle cx="843.99" cy="506.83" r="3.30" fill="#80ffb4" stroke="#80ffb4"/>
<circle cx="843.99" cy="503.00" r="3.30" fill="#80ffb4" stroke="#80ffb4"/>
<circle cx="843.99" cy="499.17" r="3.30" fill="#ff964f" stroke="#ff964f"/>
<circle cx="850.56" cy="546.47" r="3.30" fill="#8000ff" stroke="#8000ff"/>
<circle cx="850.56" cy="542.71" r="3.30" fill="#8000ff" stroke="#8000ff"/>
<circle cx="850.56" cy="538.94" r="3.30" fill="#8000ff" stroke="#8000ff"/>
<circle cx="850.56" cy="535.18" r="3.30" fill="#8000ff" stroke="#8000ff"/>
<circle cx="850.56" cy="531.41" r="3.30" fill="#8000ff" stroke="#8000ff"/>
<circle cx="850.56" cy="527.65" r="3.30" fill="#8000ff" stroke="#8000ff"/>
<circle cx="850.56" cy="523.89" r="3.30" fill="#e6cd73" stroke="#e6cd73"/>
<circle cx="850.56" cy="520.12" r="3.30" fill="#ff0000" stroke="#ff0000"/>
<circle cx="850.56" cy="516.36" r="3.30" fill="#ff0000" stroke="#ff0000"/>
<circle cx="850.56" cy="512.59" r="3.30" fill="#ff0000" stroke="#ff0000"/>
<circle cx="850.56" cy="508.83" r="3.30" fill="#ff0000" stroke="#ff0000"/>
<circle cx="850.56" cy="505.06" r="3.30" fill="#ff0000" stroke="#ff0000"/>
<circle cx="850.56" cy="501.30" r="3.30" fill="#ff0000" stroke="#ff0000"/>
<circle cx="857.12" cy="547.79" r="3.30" fill="#8000ff" stroke="#8000ff"/>
<circle cx="857.12" cy="544.09" r="3.30" fill="#8000ff" stroke="#8000ff"/>
<circle cx="857.12" cy="540.38" r="3.30" fill="#8000ff" stroke="#8000ff"/>
<circle cx="857.12" cy="536.68" r="3.30" fill="#8000ff" stroke="#8000ff"/>
<circle cx="857.12" cy="532.98" r="3.30" fill="#8000ff" stroke="#8000ff"/>
<circle cx="857.12" cy="529.27" r="3.30" fill="#8000ff" stroke="#8000ff"/>
<circle cx="857.12" cy="525.57" r="3.30" fill="#8000ff" stroke="#8000ff"/>
<circle cx="857.12" cy="521.87" r="3.30" fill="#8000ff" stroke="#8000ff"/>
<circle cx="857.12" cy="518.16" r="3.30" fill="#8000ff" stroke="#8000ff"/>
<circle cx="857.12" cy="514.46" r="3.30" fill="#8000ff" stroke="#8000ff"/>
<circle cx="857.12" cy="510.76" r="3.30" fill="#8000ff" stroke="#8000ff"/>
<circle cx="857.12" cy="507.05" r="3.30" fill="#8000ff" stroke="#8000ff"/>
<circle cx="857.12" cy="503.35" r="3.30" fill="#8000ff" stroke="#8000ff"/>
<circle cx="863.69" cy="549.06" r="3.30" fill="#8000ff" stroke="#8000ff"/>
<circle cx="863.69" cy="545.41" r="3.30" fill="#8000ff" stroke="#8000ff"/>
<circle cx="863.69" cy="541.77" r="3.30" fill="#8000ff" stroke="#8000ff"/>
<circle cx="863.69" cy="538.13" r="3.30" fill="#8000ff" stroke="#8000ff"/>
<circle cx="863.69" cy="534.48" r="3.30" fill="#8000ff" stroke="#8000ff"/>
<circle cx="863.69" cy="530.84" r="3.30" fill="#8000ff" stroke="#8000ff"/>
<circle cx="863.69" cy="527.19" r="3.30" fill="#1996f3" stroke="#1996f3"/>
<circle cx="863.69" cy="523.55" r="3.30" fill="#ff0000" stroke="#ff0000"/>
<circle cx="863.69" cy="519.91" r="3.30" fill="#ff0000" stroke="#ff0000"/>
<circle cx="863.69" cy="516.26" r="3.30" fill="#ff0000" stroke="#ff0000"/>
<circle cx="863.69" cy="512.62" r="3.30" fill="#ff0000" stroke="#ff0000"/>
<circle cx="863.69" cy="508.97" r="3.30" fill="#ff0000" stroke="#ff0000"/>
<circle cx="863.69" cy="505.33" r="3.30" fill="#ff0000" stroke="#ff0000"/>
<circle cx="870.25" cy="550.28" r="3.30" fill="#8000ff" stroke="#8000ff"/>
<circle cx="870.25" cy="546.70" r="3.30" fill="#8000ff" stroke="#8000ff"/>
<circle cx="870.25" cy="543.11" r="3.30" fill="#8000ff" stroke="#8000ff"/>
<circle cx="870.25" cy="539.52" r="3.30" fill="#8000ff" stroke="#8000ff"/>
<circle cx="870.25" cy="535.94" r="3.30" fill="#8000ff" stroke="#8000ff"/>
<circle cx="870.25" cy="532.35" r="3.30" fill="#8000ff" stroke="#8000ff"/>
<circle cx="870.25" cy="528.76" r="3.30" fill="#8000ff" stroke="#8000ff"/>
<circle cx="870.25" cy="525.18" r="3.30" fill="#8000ff" stroke="#8000ff"/>
<circle cx="870.25" cy="521.59" r="3.30" fill="#8000ff" stroke="#8000ff"/>
<circle cx="870.25" cy="518.00" r="3.30" fill="#1996f3" stroke="#1996f3"/>
<circle cx="870.25" cy="514.42" r="3.30" fill="#80ffb4" stroke="#80ffb4"/>
<circle cx="870.25" cy="510.83" r="3.30" fill="#80ffb4" stroke="#80ffb4"/>
<circle cx="870.25" cy="507.24" r="3.30" fill="#80ffb4" stroke="#80ffb4"/>
<circle cx="876.82" cy="551.47" r="3.30" fill="#8000ff" stroke="#8000ff"/>
<circle cx="876.82" cy="547.94" r="3.30" fill="#8000ff" stroke="#8000ff"/>
<circle cx="876.82" cy="544.40" r="3.30" fill="#8000ff" stroke="#8000ff"/>
<circle cx="876.82" cy="540.87" r="3.30" fill="#8000ff" stroke="#8000ff"/>
<circle cx="876.82" cy="537.34" r="3.30" fill="#8000ff" stroke="#8000ff"/>
<circle cx="876.82" cy="533.81" r="3.30" fill="#8000ff" stroke="#8000ff"/>
<circle cx="876.82" cy="530.28" r="3.30" fill="#8000ff" stroke="#8000ff"/>
<circle cx="876.82" cy="526.75" r="3.30" fill="#8000ff" stroke="#8000ff"/>
<circle cx="876.82" cy="523.21" r="3.30" fill="#8000ff" stroke="#8000ff"/>
<circle cx="876.82" cy="519.68" r="3.30" fill="#8000ff" stroke="#8000ff"/>
<circle cx="876.82" cy="516.15" r="3.30" fill="#8000ff" stroke="#8000ff"/>
<circle cx="876.82" cy="512.62" r="3.30" fill="#8000ff" stroke="#8000ff"/>
<circle cx="876.82" cy="509.09" r="3.30" fill="#8000ff" stroke="#8000ff"/>
<circle cx="883.38" cy="552.61" r="3.30" fill="#8000ff" stroke="#8000ff"/>
<circle cx="883.38" cy="549.13" r="3.30" fill="#8000ff" stroke="#8000ff"/>
<circle cx="883.38" cy="545.66" r="3.30" fill="#8000ff" stroke="#8000ff"/>
<circle cx="883.38" cy="542.18" r="3.30" fill="#8000ff" stroke="#8000ff"/>
<circle cx="883.38" cy="538.70" r="3.30" fill="#8000ff" stroke="#8000ff"/>
<circle cx="883.38" cy="535.22" r="3.30" fill="#8000ff" stroke="#8000ff"/>
<circle cx="883.38" cy="531.74" r="3.30" fill="#8000ff" stroke="#8000ff"/>
<circle cx="883.38" cy="528.26" r="3.30" fill="#8000ff" stroke="#8000ff"/>
<circle cx="883.38" cy="524.79" r="3.30" fill="#8000ff" stroke="#8000ff"/>
<circle cx="883.38" cy="521.31" r="3.30" fill="#8000ff" stroke="#8000ff"/>
<circle cx="883.38" cy="517.83" r="3.30" fill="#8000ff" stroke="#8000ff"/>
<circle cx="883.38" cy="514.35" r="3.30" fill="#8000ff" stroke="#8000ff"/>
<circle cx="883.38" cy="510.87" r="3.30" fill="#8000ff" stroke="#8000ff"/>
<circle cx="889.95" cy="553.72" r="3.30" fill="#8000ff" stroke="#8000ff"/>
<circle cx="889.95" cy="550.29" r="3.30" fill="#8000ff" stroke="#8000ff"/>
<circle cx="889.95" cy="546.87" r="3.30" fill="#8000ff" stroke="#8000ff"/>
<circle cx="889.95" cy="543.44" r="3.30" fill="#8000ff" stroke="#8000ff"/>
<circle cx="889.95" cy="540.01" r="3.30" fill="#8000ff" stroke="#8000ff"/>
<circle cx="889.95" cy="536.59" r="3.30" fill="#8000ff" stroke="#8000ff"/>
<circle cx="889.95" cy="533.16" r="3.30" fill="#8000ff" stroke="#8000ff"/>
<circle cx="889.95" cy="529.73" r="3.30" fill="#ff964f" stroke="#ff964f"/>
<circle cx="889.95" cy="526.31" r="3.30" fill="#ff0000" stroke="#ff0000"/>
<circle cx="889.95" cy="522.88" r="3.30" fill="#ff0000" stroke="#ff0000"/>
<circle cx="889.95" cy="519.45" r="3.30" fill="#ff0000" stroke="#ff0000"/>
<circle cx="889.95" cy="516.03" r="3.30" fill="#ff0000" stroke="#ff0000"/>
<circle cx="889.95" cy="512.60" r="3.30" fill="#ff0000" stroke="#ff0000"/>
<circle cx="896.51" cy="554.79" r="3.30" fill="#8000ff" stroke="#8000ff"/>
<circle cx="896.51" cy="551.42" r="3.30" fill="#8000ff" stroke="#8000ff"/>
<circle cx="896.51" cy="548.04" r="3.30" fill="#8000ff" stroke="#8000ff"/>
<circle cx="896.51" cy="544.66" r="3.30" fill="#8000ff" stroke="#8000ff"/>
<circle cx="896.51" cy="541.29" r="3.30" fill="#8000ff" stroke="#8000ff"/>
<circle cx="896.51" cy="537.91" r="3.30" fill="#8000ff" stroke="#8000ff"/>
<circle cx="896.51" cy="534.53" r="3.30" fill="#8000ff" stroke="#8000ff"/>
<circle cx="896.51" cy="531.16" r="3.30" fill="#8000ff" stroke="#8000ff"/>
<circle cx="896.51" cy="527.78" r="3.30" fill="#8000ff" stroke="#8000ff"/>
<circle cx="896.51" cy="524.40" r="3.30" fill="#18cde4" stroke="#18cde4"/>
<circle cx="896.51" cy="521.03" r="3.30" fill="#80ffb4" stroke="#80ffb4"/>
<circle cx="896.51" cy="517.65" r="3.30" fill="#80ffb4" stroke="#80ffb4"/>
<circle cx="896.51" cy="514.27" r="3.30" fill="#80ffb4" stroke="#80ffb4"/>
<circle cx="903.08" cy="555.83" r="3.30" fill="#8000ff" stroke="#8000ff"/>
<circle cx="903.08" cy="552.50" r="3.30" fill="#8000ff" stroke="#8000ff"/>
<circle cx="903.08" cy="549.17" r="3.30" fill="#8000ff" stroke="#8000ff"/>
<circle cx="903.08" cy="545.85" r="3.30" fill="#8000ff" stroke="#8000ff"/>
<circle cx="903.08" cy="542.52" r="3.30" fill="#8000ff" stroke="#8000ff"/>
<circle cx="903.08" cy="539.19" r="3.30" fill="#8000ff" stroke="#8000ff"/>
<circle cx="903.08" cy="535.86" r="3.30" fill="#8000ff" stroke="#8000ff"/>
<circle cx="903.08" cy="532.53" r="3.30" fill="#8000ff" stroke="#8000ff"/>
<circle cx="903.08" cy="529.20" r="3.30" fill="#8000ff" stroke="#8000ff"/>
<circle cx="903.08" cy="525.88" r="3.30" fill="#8000ff" stroke="#8000ff"/>
<circle cx="903.08" cy="522.55" r="3.30" fill="#8000ff" stroke="#8000ff"/>
<circle cx="903.08" cy="519.22" r="3.30" fill="#8000ff" stroke="#8000ff"/>
<circle cx="903.08" cy="515.89" r="3.30" fill="#8000ff" stroke="#8000ff"/>
<circle cx="909.64" cy="556.84" r="3.30" fill="#8000ff" stroke="#8000ff"/>
<circle cx="909.64" cy="553.56" r="3.30" fill="#8000ff" stroke="#8000ff"/>
<circle cx="909.64" cy="550.27" r="3.30" fill="#8000ff" stroke="#8000ff"/>
<circle cx="909.64" cy="546.99" r="3.30" fill="#8000ff" stroke="#8000ff"/>
<circle cx="909.64" cy="543.71" r="3.30" fill="#8000ff" stroke="#8000ff"/>
<circle cx="909.64" cy="540.43" r="3.30" fill="#8000ff" stroke="#8000ff"/>
<circle cx="909.64" cy="537.15" r="3.30" fill="#8000ff" stroke="#8000ff"/>
<circle cx="909.64" cy="533.87" r="3.30" fill="#8000ff" stroke="#8000ff"/>
<circle cx="909.64" cy="530.59" r="3.30" fill="#8000ff" stroke="#8000ff"/>
<circle cx="909.64" cy="527.30" r="3.30" fill="#8000ff" stroke="#8000ff"/>
<circle cx="909.64" cy="524.02" r="3.30" fill="#8000ff" stroke="#8000ff"/>
<circle cx="909.64" cy="520.74" r="3.30" fill="#8000ff" stroke="#8000ff"/>
<circle cx="909.64" cy="517.46" r="3.30" fill="#8000ff" stroke="#8000ff"/>
<circle cx="916.21" cy="557.81" r="3.30" fill="#8000ff" stroke="#8000ff"/>
<circle cx="916.21" cy="554.58" r="3.30" fill="#8000ff" stroke="#8000ff"/>
<circle cx="916.21" cy="551.34" r="3.30" fill="#8000ff" stroke="#8000ff"/>
<circle cx="916.21" cy="548.10" r="3.30" fill="#8000ff" stroke="#8000ff"/>
<circle cx="916.21" cy="544.87" r="3.30" fill="#8000ff" stroke="#8000ff"/>
<circle cx="916.21" cy="541.63" r="3.30" fill="#8000ff" stroke="#8000ff"/>
<circle cx="916.21" cy="538.40" r="3.30" fill="#8000ff" stroke="#8000ff"/>
<circle cx="916.21" cy="535.16" r="3.30" fill="#8000ff" stroke="#8000ff"/>
<circle cx="916.21" cy="531.92" r="3.30" fill="#8000ff" stroke="#8000ff"/>
<circle cx="916.21" cy="528.69" r="3.30" fill="#8000ff" stroke="#8000ff"/>
<circle cx="916.21" cy="525.45" r="3.30" fill="#8000ff" stroke="#8000ff"/>
<circle cx="916.21" cy="522.22" r="3.30" fill="#8000ff" stroke="#8000ff"/>
<circle cx="916.21" cy="518.98" r="3.30" fill="#8000ff" stroke="#8000ff"/>
<circle cx="922.77" cy="558.76" r="3.30" fill="#8000ff" stroke="#8000ff"/>
<circle cx="922.77" cy="555.57" r="3.30" fill="#8000ff" stroke="#8000ff"/>
<circle cx="922.77" cy="552.37" r="3.30" fill="#8000ff" stroke="#8000ff"/>
<circle cx="922.77" cy="549.18" r="3.30" fill="#8000ff" stroke="#8000ff"/>
<circle cx="922.77" cy="545.99" r="3.30" fill="#8000ff" stroke="#8000ff"/>
<circle cx="922.77" cy="542.80" r="3.30" fill="#8000ff" stroke="#8000ff"/>
<circle cx="922.77" cy="539.61" r="3.30" fill="#8000ff" stroke="#8000ff"/>
<circle cx="922.77" cy="536.42" r="3.30" fill="#8000ff" stroke="#8000ff"/>
<circle cx="922.77" cy="533.22" r="3.30" fill="#8000ff" stroke="#8000ff"/>
<circle cx="922.77" cy="530.03" r="3.30" fill="#8000ff" stroke="#8000ff"/>
<circle cx="922.77" cy="526.84" r="3.30" fill="#1996f3" stroke="#1996f3"/>
<circle cx="922.77" cy="523.65" r="3.30" fill="#80ffb4" stroke="#80ffb4"/>
<circle cx="922.77" cy="520.46" r="3.30" fill="#80ffb4" stroke="#80ffb4"/>
<circle cx="929.34" cy="559.68" r="3.30" fill="#8000ff" stroke="#8000ff"/>
<circle cx="929.34" cy="556.53" r="3.30" fill="#8000ff" stroke="#8000ff"/>
<circle cx="929.34" cy="553.38" r="3.30" fill="#8000ff" stroke="#8000ff"/>
<circle cx="929.34" cy="550.23" r="3.30" fill="#8000ff" stroke="#8000ff"/>
<circle cx="929.34" cy="547.08" r="3.30" fill="#8000ff" stroke="#8000ff"/>
<circle cx="929.34" cy="543.93" r="3.30" fill="#8000ff" stroke="#8000ff"/>
<circle cx="929.34" cy="540.78" r="3.30" fill="#8000ff" stroke="#8000ff"/>
<circle cx="929.34" cy="537.63" r="3.30" fill="#8000ff" stroke="#8000ff"/>
<circle cx="929.34" cy="534.48" r="3.30" fill="#ff0000" stroke="#ff0000"/>
<circle cx="929.34" cy="531.34" r="3.30" fill="#ff0000" stroke="#ff0000"/>
<circle cx="929.34" cy="528.19" r="3.30" fill="#ff0000" stroke="#ff0000"/>
<circle cx="929.34" cy="525.04" r="3.30" fill="#ff0000" stroke="#ff0000"/>
<circle cx="929.34" cy="521.89" r="3.30" fill="#ff0000" stroke="#ff0000"/>
<circle cx="935.90" cy="560.57" r="3.30" fill="#8000ff" stroke="#8000ff"/>
<circle cx="935.90" cy="557.46" r="3.30" fill="#8000ff" stroke="#8000ff"/>
<circle cx="935.90" cy="554.35" r="3.30" fill="#8000ff" stroke="#8000ff"/>
<circle cx="935.90" cy="551.25" r="3.30" fill="#8000ff" stroke="#8000ff"/>
<circle cx="935.90" cy="548.14" r="3.30" fill="#8000ff" stroke="#8000ff"/>
<circle cx="935.90" cy="545.03" r="3.30" fill="#8000ff" stroke="#8000ff"/>
<circle cx="935.90" cy="541.92" r="3.30" fill="#8000ff" stroke="#8000ff"/>
<circle cx="935.90" cy="538.82" r="3.30" fill="#8000ff" stroke="#8000ff"/>
<circle cx="935.90" cy="535.71" r="3.30" fill="#8000ff" stroke="#8000ff"/>
<circle cx="935.90" cy="532.60" r="3.30" fill="#8000ff" stroke="#8000ff"/>
<circle cx="935.90" cy="529.49" r="3.30" fill="#8000ff" stroke="#8000ff"/>
<circle cx="935.90" cy="526.39" r="3.30" fill="#8000ff" stroke="#8000ff"/>
<circle cx="935.90" cy="523.28" r="3.30" fill="#8000ff" stroke="#8000ff"/>
<circle cx="942.47" cy="561.43" r="3.30" fill="#8000ff" stroke="#8000ff"/>
<circle cx="942.47" cy="558.37" r="3.30" fill="#8000ff" stroke="#8000ff"/>
<circle cx="942.47" cy="555.30" r="3.30" fill="#8000ff" stroke="#8000ff"/>
<circle cx="942.47" cy="552.23" r="3.30" fill="#8000ff" stroke="#8000ff"/>
<circle cx="942.47" cy="549.17" r="3.30" fill="#8000ff" stroke="#8000ff"/>
<circle cx="942.47" cy="546.10" r="3.30" fill="#8000ff" stroke="#8000ff"/>
<circle cx="942.47" cy="543.03" r="3.30" fill="#8000ff" stroke="#8000ff"/>
<circle cx="942.47" cy="539.97" r="3.30" fill="#8000ff" stroke="#8000ff"/>
<circle cx="942.47" cy="536.90" r="3.30" fill="#b2f396" stroke="#b2f396"/>
<circle cx="942.47" cy="533.83" r="3.30" fill="#ff4d27" stroke="#ff4d27"/>
<circle cx="942.47" cy="530.76" r="3.30" fill="#ff0000" stroke="#ff0000"/>
<circle cx="942.47" cy="527.70" r="3.30" fill="#ff0000" stroke="#ff0000"/>
<circle cx="942.47" cy="524.63" r="3.30" fill="#ff0000" stroke="#ff0000"/>
<circle cx="949.03" cy="562.28" r="3.30" fill="#8000ff" stroke="#8000ff"/>
<circle cx="949.03" cy="559.25" r="3.30" fill="#8000ff" stroke="#8000ff"/>
<circle cx="949.03" cy="556.22" r="3.30" fill="#8000ff" stroke="#8000ff"/>
<circle cx="949.03" cy="553.19" r="3.30" fill="#8000ff" stroke="#8000ff"/>
<circle cx="949.03" cy="550.17" r="3.30" fill="#8000ff" stroke="#8000ff"/>
<circle cx="949.03" cy="547.14" r="3.30" fill="#8000ff" stroke="#8000ff"/>
<circle cx="949.03" cy="544.11" r="3.30" fill="#8000ff" stroke="#8000ff"/>
<circle cx="949.03" cy="541.08" r="3.30" fill="#8000ff" stroke="#8000ff"/>
<circle cx="949.03" cy="538.05" r="3.30" fill="#8000ff" stroke="#8000ff"/>
<circle cx="949.03" cy="535.03" r="3.30" fill="#8000ff" stroke="#8000ff"/>
<circle cx="949.03" cy="532.00" r="3.30" fill="#8000ff" stroke="#8000ff"/>
<circle cx="949.03" cy="528.97" r="3.30" fill="#4df3ce" stroke="#4df3ce"/>
<circle cx="949.03" cy="525.94" r="3.30" fill="#80ffb4" stroke="#80ffb4"/>
<circle cx="955.60" cy="563.10" r="3.30" fill="#8000ff" stroke="#8000ff"/>
<circle cx="955.60" cy="560.11" r="3.30" fill="#8000ff" stroke="#8000ff"/>
<circle cx="955.60" cy="557.12" r="3.30" fill="#8000ff" stroke="#8000ff"/>
<circle cx="955.60" cy="554.13" r="3.30" fill="#8000ff" stroke="#8000ff"/>
<circle cx="955.60" cy="551.14" r="3.30" fill="#8000ff" stroke="#8000ff"/>
<circle cx="955.60" cy="548.15" r="3.30" fill="#8000ff" stroke="#8000ff"/>
<circle cx="955.60" cy="545.16" r="3.30" fill="#8000ff" stroke="#8000ff"/>
<circle cx="955.60" cy="542.17" r="3.30" fill="#8000ff" stroke="#8000ff"/>
<circle cx="955.60" cy="539.18" r="3.30" fill="#8000ff" stroke="#8000ff"/>
<circle cx="955.60" cy="536.19" r="3.30" fill="#8000ff" stroke="#8000ff"/>
<circle cx="955.60" cy="533.20" r="3.30" fill="#8000ff" stroke="#8000ff"/>
<circle cx="955.60" cy="530.21" r="3.30" fill="#8000ff" stroke="#8000ff"/>
<circle cx="955.60" cy="527.22" r="3.30" fill="#8000ff" stroke="#8000ff"/>
<polyline points="653.60,400.22 660.17,409.36 666.73,417.71 673.30,425.38 679.86,432.45 686.43,438.99 692.99,445.06 699.56,450.71 706.12,455.98 712.69,460.92 719.25,465.55 725.82,469.90 732.38,474.00 738.95,477.87 745.51,481.53 752.08,485.00 758.64,488.29 765.21,491.41 771.77,494.39 778.34,497.22 784.90,499.92 791.47,502.51 798.03,504.97 804.60,507.34 811.17,509.60 817.73,511.78 824.30,513.86 830.86,515.87 837.43,517.79 843.99,519.65 850.56,521.44 857.12,523.16 863.69,524.83 870.25,526.43 876.82,527.98 883.38,529.48 889.95,530.93 896.51,532.34 903.08,533.70 909.64,535.02 916.21,536.29 922.77,537.53 929.34,538.74 935.90,539.90 942.47,541.04 949.03,542.14 955.60,543.21" fill="none" stroke="#000" stroke-width="0.69" stroke-dasharray="2.57 1.11"/>
</g>
<rect x="638.50" y="346.70" width="332.20" height="226.70" fill="none" stroke="#000" stroke-width="1.11"/>
<line x1="673.30" y1="573.40" x2="673.30" y2="578.26" stroke="#000" stroke-width="1.11"/>
<text x="673.30" y="593.90" text-anchor="middle" font-size="15.30" textLength="17.67" lengthAdjust="spacingAndGlyphs">40</text>
<line x1="738.95" y1="573.40" x2="738.95" y2="578.26" stroke="#000" stroke-width="1.11"/>
<text x="738.95" y="593.90" text-anchor="middle" font-size="15.30" textLength="17.67" lengthAdjust="spacingAndGlyphs">60</text>
<line x1="804.60" y1="573.40" x2="804.60" y2="578.26" stroke="#000" stroke-width="1.11"/>
<text x="804.60" y="593.90" text-anchor="middle" font-size="15.30" textLength="17.67" lengthAdjust="spacingAndGlyphs">80</text>
<line x1="870.25" y1="573.40" x2="870.25" y2="578.26" stroke="#000" stroke-width="1.11"/>
<text x="870.25" y="593.90" text-anchor="middle" font-size="15.30" textLength="26.50" lengthAdjust="spacingAndGlyphs">100</text>
<line x1="935.90" y1="573.40" x2="935.90" y2="578.26" stroke="#000" stroke-width="1.11"/>
<text x="935.90" y="593.90" text-anchor="middle" font-size="15.30" textLength="26.50" lengthAdjust="spacingAndGlyphs">120</text>
<line x1="633.64" y1="549.33" x2="638.50" y2="549.33" stroke="#000" stroke-width="1.11"/>
<text x="628.78" y="555.13" text-anchor="end" font-size="15.30" textLength="30.92" lengthAdjust="spacingAndGlyphs">0.10</text>
<line x1="633.64" y1="510.39" x2="638.50" y2="510.39" stroke="#000" stroke-width="1.11"/>
<text x="628.78" y="516.19" text-anchor="end" font-size="15.30" textLength="30.92" lengthAdjust="spacingAndGlyphs">0.15</text>
<line x1="633.64" y1="471.45" x2="638.50" y2="471.45" stroke="#000" stroke-width="1.11"/>
<text x="628.78" y="477.25" text-anchor="end" font-size="15.30" textLength="30.92" lengthAdjust="spacingAndGlyphs">0.20</text>
<line x1="633.64" y1="432.50" x2="638.50" y2="432.50" stroke="#000" stroke-width="1.11"/>
<text x="628.78" y="438.30" text-anchor="end" font-size="15.30" textLength="30.92" lengthAdjust="spacingAndGlyphs">0.25</text>
<line x1="633.64" y1="393.56" x2="638.50" y2="393.56" stroke="#000" stroke-width="1.11"/>
<text x="628.78" y="399.36" text-anchor="end" font-size="15.30" textLength="30.92" lengthAdjust="spacingAndGlyphs">0.30</text>
<line x1="633.64" y1="354.61" x2="638.50" y2="354.61" stroke="#000" stroke-width="1.11"/>
<text x="628.78" y="360.41" text-anchor="end" font-size="15.30" textLength="30.92" lengthAdjust="spacingAndGlyphs">0.35</text>
<text x="804.80" y="612.90" text-anchor="middle" font-size="15.20" font-style="italic">M</text>
<text x="588.70" y="460.05" text-anchor="middle" font-size="15.20" transform="rotate(-90 588.70 460.05)" textLength="45.50" lengthAdjust="spacingAndGlyphs">train%</text>
<linearGradient id="g4" x1="0" y1="0" x2="0" y2="1"><stop offset="0.000" stop-color="#ff0000"/><stop offset="0.031" stop-color="#ff160b"/><stop offset="0.062" stop-color="#ff2f18"/><stop offset="0.094" stop-color="#ff4724"/><stop offset="0.125" stop-color="#ff5f30"/><stop offset="0.156" stop-color="#ff763d"/><stop offset="0.188" stop-color="#ff8c49"/><stop offset="0.219" stop-color="#ffa055"/><stop offset="0.250" stop-color="#ffb360"/><stop offset="0.281" stop-color="#f0c46c"/><stop offset="0.312" stop-color="#e0d377"/><stop offset="0.344" stop-color="#d0e082"/><stop offset="0.375" stop-color="#c0eb8d"/><stop offset="0.406" stop-color="#b0f397"/><stop offset="0.438" stop-color="#a0faa1"/><stop offset="0.469" stop-color="#90feab"/><stop offset="0.500" stop-color="#80ffb4"/><stop offset="0.531" stop-color="#70febc"/><stop offset="0.562" stop-color="#60fac5"/><stop offset="0.594" stop-color="#50f4cc"/><stop offset="0.625" stop-color="#40ecd4"/><stop offset="0.656" stop-color="#30e1da"/><stop offset="0.688" stop-color="#20d5e1"/><stop offset="0.719" stop-color="#10c6e6"/><stop offset="0.750" stop-color="#00b5eb"/><stop offset="0.781" stop-color="#10a2f0"/><stop offset="0.812" stop-color="#208ef4"/><stop offset="0.844" stop-color="#3079f7"/><stop offset="0.875" stop-color="#4062fa"/><stop offset="0.906" stop-color="#504afc"/><stop offset="0.938" stop-color="#6032fe"/><stop offset="0.969" stop-color="#7019ff"/><stop offset="1.000" stop-color="#8000ff"/></linearGradient>
<rect x="991.20" y="346.70" width="11.30" height="226.70" fill="url(#g4)" fill-opacity="0.70"/>
<rect x="991.20" y="346.70" width="11.30" height="226.70" fill="none" stroke="#000" stroke-width="1.11"/>
<line x1="1002.50" y1="573.40" x2="1007.36" y2="573.40" stroke="#000" stroke-width="1.11"/>
<text x="1012.90" y="579.20" text-anchor="start" font-size="15.30" textLength="22.08" lengthAdjust="spacingAndGlyphs">0.0</text>
<line x1="1002.50" y1="528.06" x2="1007.36" y2="528.06" stroke="#000" stroke-width="1.11"/>
<text x="1012.90" y="533.86" text-anchor="start" font-size="15.30" textLength="22.08" lengthAdjust="spacingAndGlyphs">0.2</text>
<line x1="1002.50" y1="482.72" x2="1007.36" y2="482.72" stroke="#000" stroke-width="1.11"/>
<text x="1012.90" y="488.52" text-anchor="start" font-size="15.30" textLength="22.08" lengthAdjust="spacingAndGlyphs">0.4</text>
<line x1="1002.50" y1="437.38" x2="1007.36" y2="437.38" stroke="#000" stroke-width="1.11"/>
<text x="1012.90" y="443.18" text-anchor="start" font-size="15.30" textLength="22.08" lengthAdjust="spacingAndGlyphs">0.6</text>
<line x1="1002.50" y1="392.04" x2="1007.36" y2="392.04" stroke="#000" stroke-width="1.11"/>
<text x="1012.90" y="397.84" text-anchor="start" font-size="15.30" textLength="22.08" lengthAdjust="spacingAndGlyphs">0.8</text>
<line x1="1002.50" y1="346.70" x2="1007.36" y2="346.70" stroke="#000" stroke-width="1.11"/>
<text x="1012.90" y="352.50" text-anchor="start" font-size="15.30" textLength="22.08" lengthAdjust="spacingAndGlyphs">1.0</text>
<text x="1051.50" y="460.05" text-anchor="middle" font-size="15.20" transform="rotate(-90 1051.50 460.05)" textLength="97.50" lengthAdjust="spacingAndGlyphs">Test accuracy</text>
</g>
</svg>
</body></html>
